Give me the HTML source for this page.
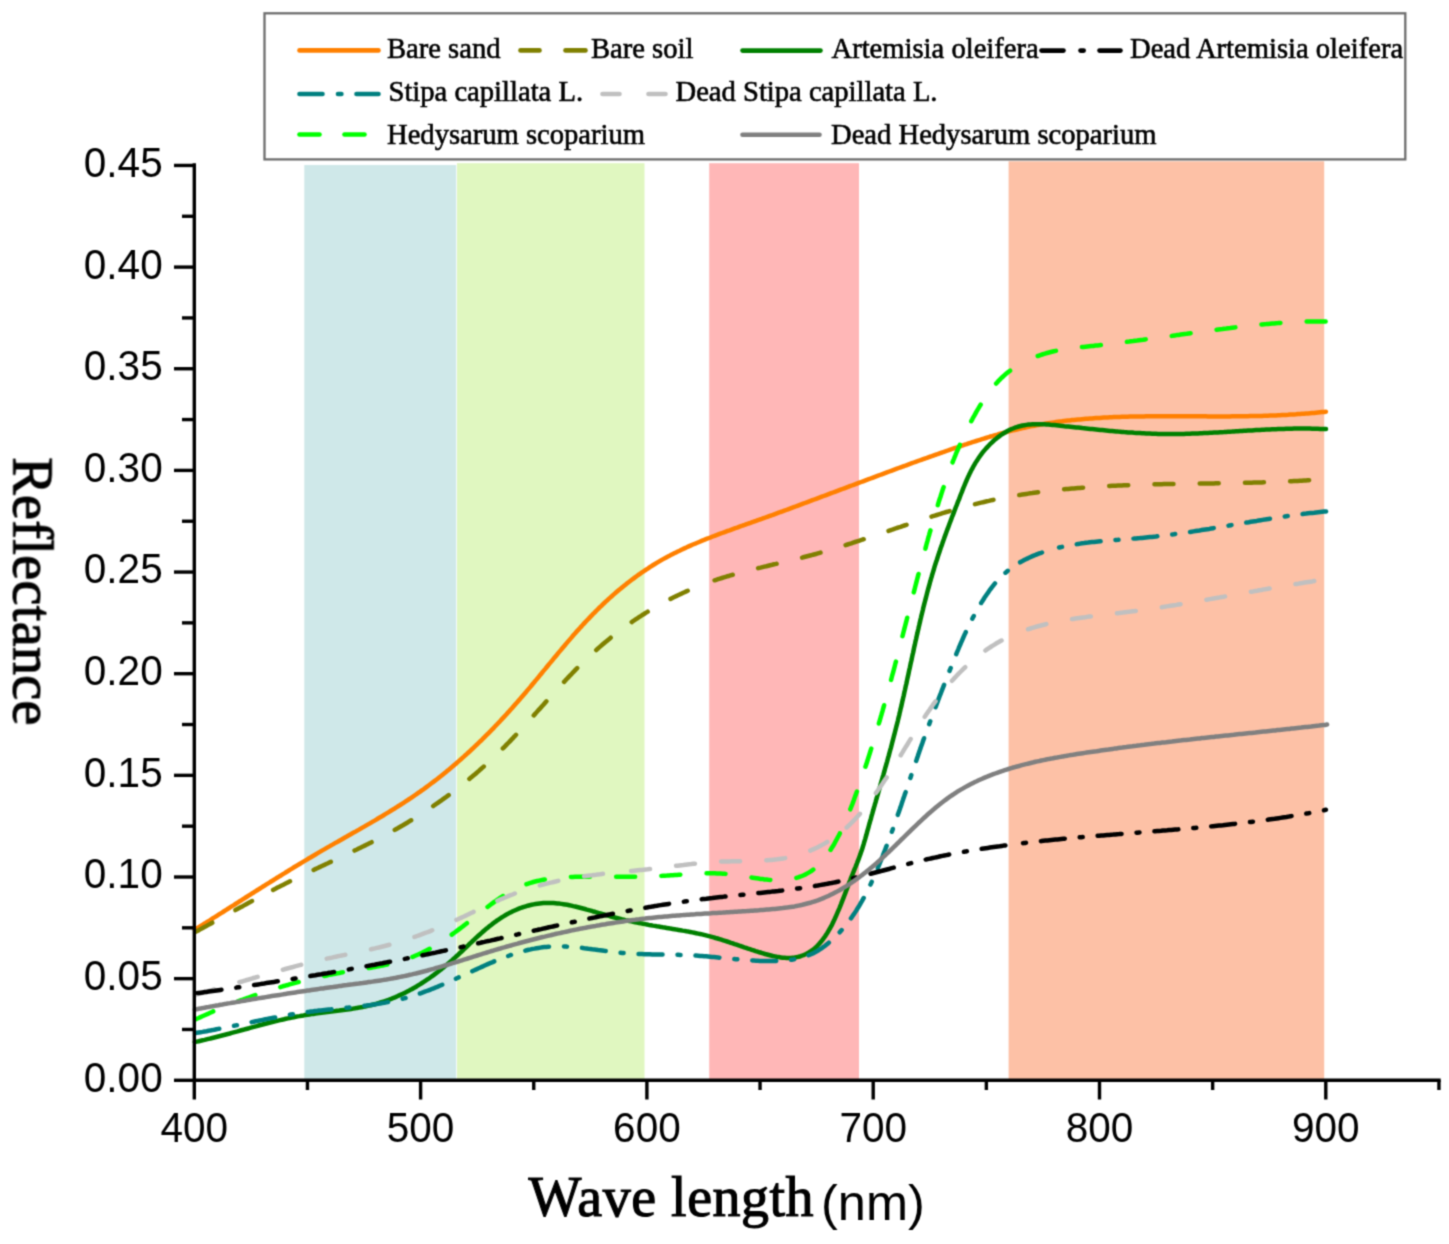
<!DOCTYPE html>
<html><head><meta charset="utf-8"><style>
html,body{margin:0;padding:0;background:#fff;}
svg{display:block;}
text{fill:#000;}
</style></head><body>
<svg width="1449" height="1244" viewBox="0 0 1449 1244">
<defs><filter id="bl" color-interpolation-filters="sRGB" x="0" y="0" width="1449" height="1244" filterUnits="userSpaceOnUse" primitiveUnits="userSpaceOnUse"><feConvolveMatrix order="3" kernelMatrix="0.0400 0.1200 0.0400 0.1200 0.3600 0.1200 0.0400 0.1200 0.0400" edgeMode="duplicate"/></filter></defs>
<g filter="url(#bl)">
<rect width="1449" height="1244" fill="#fff"/>
<rect x="304.3" y="165.0" width="151.9" height="915.3" fill="#cfe8e9"/>
<rect x="457.0" y="163.2" width="187.5" height="917.1" fill="#e0f7c0"/>
<rect x="709.2" y="163.2" width="149.8" height="917.1" fill="#ffb7b7"/>
<rect x="1008.6" y="161.3" width="315.6" height="919.0" fill="#fdc1a6"/>
<path d="M194.9,929.7 L196.6,928.6 198.3,927.5 200.0,926.5 201.7,925.4 203.4,924.3 205.1,923.3 206.8,922.2 208.5,921.1 210.2,920.1 211.8,919.0 213.5,917.9 215.2,916.9 216.9,915.8 218.6,914.7 220.3,913.6 222.0,912.6 223.7,911.5 225.4,910.4 227.1,909.3 228.8,908.3 230.4,907.2 232.1,906.1 233.8,905.1 235.5,904.0 237.2,902.9 238.9,901.8 240.6,900.8 242.3,899.7 244.0,898.6 245.7,897.5 247.3,896.5 249.0,895.4 250.7,894.3 252.4,893.2 254.1,892.2 255.8,891.1 257.5,890.0 259.2,889.0 260.9,887.9 262.6,886.8 264.3,885.8 266.0,884.7 267.7,883.6 269.4,882.6 271.1,881.5 272.8,880.5 274.5,879.4 276.2,878.3 277.9,877.3 279.6,876.2 281.3,875.2 283.0,874.1 284.7,873.1 286.4,872.0 288.1,871.0 289.8,869.9 291.5,868.9 293.2,867.8 294.9,866.8 296.6,865.8 298.3,864.7 300.0,863.7 301.8,862.6 303.5,861.6 305.2,860.6 306.9,859.6 308.6,858.5 310.4,857.5 312.1,856.5 313.8,855.5 315.5,854.5 317.3,853.4 319.0,852.4 320.7,851.4 322.4,850.4 324.2,849.4 325.9,848.4 327.6,847.4 329.4,846.4 331.1,845.4 332.9,844.4 334.6,843.4 336.3,842.4 338.1,841.5 339.8,840.5 341.6,839.5 343.3,838.5 345.0,837.5 346.8,836.5 348.5,835.5 350.3,834.5 352.0,833.5 353.7,832.6 355.5,831.6 357.2,830.6 359.0,829.6 360.7,828.6 362.4,827.6 364.2,826.6 365.9,825.6 367.6,824.6 369.4,823.6 371.1,822.6 372.8,821.6 374.6,820.6 376.3,819.6 378.0,818.5 379.7,817.5 381.5,816.5 383.2,815.5 384.9,814.4 386.6,813.4 388.3,812.4 390.0,811.3 391.7,810.3 393.4,809.2 395.1,808.2 396.8,807.1 398.5,806.0 400.2,805.0 401.9,803.9 403.6,802.8 405.3,801.7 406.9,800.6 408.6,799.5 410.3,798.4 411.9,797.3 413.6,796.2 415.3,795.0 416.9,793.9 418.6,792.7 420.2,791.6 421.8,790.4 423.5,789.3 425.1,788.1 426.7,786.9 428.3,785.7 429.9,784.5 431.5,783.3 433.1,782.1 434.7,780.9 436.3,779.7 437.9,778.5 439.4,777.2 441.0,776.0 442.6,774.7 444.1,773.5 445.7,772.2 447.2,770.9 448.8,769.7 450.3,768.4 451.9,767.1 453.4,765.8 454.9,764.5 456.4,763.2 457.9,761.9 459.4,760.6 460.9,759.3 462.4,757.9 463.9,756.6 465.4,755.2 466.9,753.9 468.4,752.5 469.9,751.2 471.3,749.8 472.8,748.5 474.2,747.1 475.7,745.7 477.1,744.3 478.6,742.9 480.0,741.5 481.5,740.2 482.9,738.7 484.3,737.3 485.7,735.9 487.1,734.5 488.6,733.1 490.0,731.7 491.4,730.2 492.8,728.8 494.2,727.4 495.5,725.9 496.9,724.5 498.3,723.0 499.7,721.6 501.0,720.1 502.4,718.6 503.8,717.2 505.1,715.7 506.5,714.2 507.8,712.7 509.2,711.3 510.5,709.8 511.9,708.3 513.2,706.8 514.5,705.3 515.8,703.8 517.2,702.3 518.5,700.8 519.8,699.3 521.1,697.7 522.4,696.2 523.7,694.7 525.0,693.2 526.3,691.7 527.6,690.1 528.9,688.6 530.2,687.1 531.5,685.5 532.7,684.0 534.0,682.5 535.3,680.9 536.6,679.4 537.9,677.8 539.1,676.3 540.4,674.7 541.7,673.2 542.9,671.6 544.2,670.1 545.5,668.6 546.8,667.0 548.0,665.5 549.3,663.9 550.6,662.4 551.9,660.8 553.1,659.3 554.4,657.7 555.7,656.2 557.0,654.7 558.2,653.1 559.5,651.6 560.8,650.1 562.1,648.5 563.4,647.0 564.7,645.5 566.0,643.9 567.3,642.4 568.6,640.9 569.9,639.4 571.2,637.9 572.5,636.3 573.8,634.8 575.2,633.3 576.5,631.8 577.8,630.3 579.2,628.9 580.5,627.4 581.9,625.9 583.2,624.4 584.6,622.9 585.9,621.5 587.3,620.0 588.7,618.6 590.1,617.1 591.5,615.7 592.8,614.2 594.3,612.8 595.7,611.4 597.1,610.0 598.5,608.6 599.9,607.2 601.4,605.8 602.8,604.4 604.3,603.0 605.7,601.7 607.2,600.3 608.7,598.9 610.2,597.6 611.7,596.3 613.2,594.9 614.7,593.6 616.2,592.3 617.7,591.0 619.2,589.7 620.8,588.5 622.3,587.2 623.9,585.9 625.5,584.7 627.0,583.4 628.6,582.2 630.2,581.0 631.8,579.8 633.4,578.6 635.0,577.4 636.6,576.2 638.2,575.0 639.9,573.9 641.5,572.7 643.2,571.6 644.8,570.5 646.5,569.4 648.2,568.3 649.8,567.2 651.5,566.1 653.2,565.0 654.9,564.0 656.7,562.9 658.4,561.9 660.1,560.9 661.8,559.9 663.6,558.9 665.3,558.0 667.1,557.0 668.9,556.1 670.6,555.1 672.4,554.2 674.2,553.3 676.0,552.4 677.8,551.5 679.6,550.7 681.4,549.8 683.2,548.9 685.0,548.1 686.8,547.3 688.7,546.4 690.5,545.6 692.3,544.8 694.2,544.0 696.0,543.3 697.9,542.5 699.7,541.7 701.6,540.9 703.4,540.2 705.3,539.4 707.1,538.7 709.0,538.0 710.9,537.3 712.7,536.5 714.6,535.8 716.5,535.1 718.3,534.4 720.2,533.7 722.1,533.0 724.0,532.3 725.9,531.6 727.7,530.9 729.6,530.3 731.5,529.6 733.4,528.9 735.3,528.2 737.2,527.6 739.0,526.9 740.9,526.2 742.8,525.5 744.7,524.9 746.6,524.2 748.5,523.5 750.4,522.9 752.3,522.2 754.1,521.5 756.0,520.9 757.9,520.2 759.8,519.5 761.7,518.9 763.6,518.2 765.5,517.5 767.3,516.8 769.2,516.1 771.1,515.5 773.0,514.8 774.9,514.1 776.8,513.4 778.6,512.7 780.5,512.0 782.4,511.4 784.3,510.7 786.2,510.0 788.0,509.3 789.9,508.6 791.8,507.9 793.7,507.2 795.6,506.5 797.4,505.8 799.3,505.1 801.2,504.4 803.1,503.7 804.9,503.0 806.8,502.3 808.7,501.6 810.6,500.9 812.4,500.2 814.3,499.5 816.2,498.8 818.1,498.1 820.0,497.4 821.8,496.7 823.7,496.0 825.6,495.3 827.5,494.6 829.3,493.9 831.2,493.2 833.1,492.5 834.9,491.8 836.8,491.1 838.7,490.4 840.6,489.7 842.4,489.0 844.3,488.3 846.2,487.6 848.1,486.9 849.9,486.2 851.8,485.5 853.7,484.8 855.6,484.1 857.4,483.4 859.3,482.7 861.2,482.0 863.1,481.3 864.9,480.6 866.8,479.9 868.7,479.2 870.6,478.5 872.4,477.8 874.3,477.1 876.2,476.4 878.1,475.7 879.9,475.0 881.8,474.3 883.7,473.6 885.6,472.9 887.5,472.2 889.3,471.5 891.2,470.8 893.1,470.1 895.0,469.4 896.9,468.7 898.7,468.0 900.6,467.3 902.5,466.6 904.4,466.0 906.3,465.3 908.1,464.6 910.0,463.9 911.9,463.2 913.8,462.5 915.7,461.8 917.5,461.2 919.4,460.5 921.3,459.8 923.2,459.1 925.1,458.5 927.0,457.8 928.9,457.1 930.7,456.5 932.6,455.8 934.5,455.1 936.4,454.5 938.3,453.8 940.2,453.1 942.1,452.5 944.0,451.8 945.9,451.2 947.8,450.5 949.6,449.8 951.5,449.2 953.4,448.5 955.3,447.9 957.2,447.3 959.1,446.6 961.0,446.0 962.9,445.3 964.8,444.7 966.7,444.1 968.6,443.4 970.5,442.8 972.4,442.2 974.3,441.6 976.2,441.0 978.1,440.4 980.0,439.8 982.0,439.2 983.9,438.6 985.8,438.0 987.7,437.4 989.6,436.8 991.5,436.3 993.5,435.7 995.4,435.1 997.3,434.6 999.2,434.0 1001.2,433.5 1003.1,433.0 1005.0,432.5 1007.0,431.9 1008.9,431.4 1010.8,430.9 1012.8,430.4 1014.7,430.0 1016.7,429.5 1018.6,429.0 1020.6,428.6 1022.5,428.1 1024.5,427.7 1026.4,427.3 1028.4,426.9 1030.4,426.4 1032.3,426.1 1034.3,425.7 1036.2,425.3 1038.2,424.9 1040.2,424.6 1042.2,424.2 1044.1,423.9 1046.1,423.6 1048.1,423.3 1050.1,423.0 1052.0,422.7 1054.0,422.4 1056.0,422.1 1058.0,421.8 1060.0,421.5 1062.0,421.3 1064.0,421.0 1065.9,420.8 1067.9,420.6 1069.9,420.4 1071.9,420.1 1073.9,419.9 1075.9,419.7 1077.9,419.5 1079.9,419.4 1081.9,419.2 1083.9,419.0 1085.9,418.8 1087.9,418.7 1089.9,418.5 1091.9,418.4 1093.8,418.2 1095.8,418.1 1097.8,418.0 1099.8,417.9 1101.8,417.7 1103.8,417.6 1105.8,417.5 1107.8,417.4 1109.8,417.3 1111.8,417.2 1113.8,417.1 1115.8,417.1 1117.8,417.0 1119.8,416.9 1121.8,416.8 1123.8,416.8 1125.8,416.7 1127.8,416.7 1129.8,416.6 1131.9,416.6 1133.9,416.5 1135.9,416.5 1137.9,416.4 1139.9,416.4 1141.9,416.4 1143.9,416.4 1145.9,416.3 1147.9,416.3 1149.9,416.3 1151.9,416.3 1153.9,416.3 1155.9,416.2 1157.9,416.2 1159.9,416.2 1161.9,416.2 1163.9,416.2 1165.9,416.2 1167.9,416.2 1169.9,416.2 1171.9,416.2 1173.9,416.2 1175.9,416.2 1177.9,416.2 1179.9,416.2 1181.9,416.2 1183.9,416.2 1185.9,416.3 1187.9,416.3 1189.9,416.3 1191.9,416.3 1193.9,416.3 1195.9,416.3 1197.9,416.3 1199.9,416.3 1201.9,416.3 1203.9,416.3 1205.9,416.3 1207.9,416.4 1209.9,416.4 1211.9,416.4 1213.9,416.4 1215.9,416.4 1217.9,416.4 1219.9,416.4 1221.9,416.4 1224.0,416.4 1226.0,416.4 1228.0,416.4 1230.0,416.4 1232.0,416.3 1234.0,416.3 1236.0,416.3 1238.0,416.3 1240.0,416.3 1242.0,416.3 1244.0,416.2 1246.0,416.2 1248.0,416.2 1250.0,416.1 1252.0,416.1 1254.0,416.1 1256.0,416.0 1258.0,416.0 1260.0,415.9 1262.0,415.9 1264.0,415.8 1266.0,415.7 1268.0,415.7 1270.0,415.6 1272.0,415.5 1274.0,415.4 1276.0,415.4 1278.0,415.3 1280.0,415.2 1282.0,415.1 1284.0,415.0 1286.0,414.9 1288.0,414.8 1290.0,414.6 1292.0,414.5 1294.0,414.4 1296.0,414.3 1298.0,414.1 1300.0,414.0 1302.0,413.8 1304.0,413.7 1306.0,413.5 1308.0,413.4 1310.0,413.2 1312.0,413.0 1314.0,412.9 1315.9,412.7 1317.9,412.5 1319.9,412.3 1321.9,412.1 1323.9,411.9 1325.9,411.7" fill="none" stroke="#ff8000" stroke-width="4.5" stroke-linejoin="round" stroke-linecap="round"/>
<path d="M194.8,932.3 L196.6,931.3 198.3,930.4 200.1,929.4 201.8,928.5 203.6,927.5 205.4,926.6 207.1,925.6 208.9,924.6 210.6,923.7 212.4,922.7 214.1,921.8 215.9,920.8 217.6,919.8 219.4,918.9 221.2,917.9 222.9,917.0 224.7,916.0 226.4,915.0 228.2,914.1 229.9,913.1 231.7,912.1 233.4,911.2 235.2,910.2 236.9,909.3 238.7,908.3 240.5,907.3 242.2,906.4 244.0,905.4 245.7,904.5 247.5,903.5 249.2,902.6 251.0,901.6 252.8,900.7 254.5,899.7 256.3,898.8" fill="none" stroke="#808000" stroke-width="4.5" stroke-linejoin="round" stroke-dasharray="19 26.25" stroke-dashoffset="-1.00" stroke-linecap="round"/>
<path d="M256.3,898.8 L258.1,897.8 259.8,896.9 261.6,896.0 263.4,895.0 265.1,894.1 266.9,893.1 268.7,892.2 270.4,891.3 272.2,890.4 274.0,889.4 275.8,888.5 277.5,887.6 279.3,886.7 281.1,885.8 282.9,884.9 284.7,884.0 286.5,883.1 288.2,882.2 290.0,881.3 291.8,880.4 293.6,879.5 295.4,878.6 297.2,877.8 299.0,876.9 300.8,876.0 302.6,875.2 304.4,874.3 306.2,873.4 308.0,872.6 309.8,871.7 311.7,870.8 313.5,870.0 315.3,869.1 317.1,868.3 318.9,867.4 320.7,866.6 322.5,865.7 324.3,864.9 326.1,864.0 327.9,863.2 329.8,862.3 331.6,861.5 333.4,860.6 335.2,859.8 337.0,858.9 338.8,858.1 340.6,857.2 342.4,856.4 344.2,855.5 346.0,854.7 347.9,853.8 349.7,852.9 351.5,852.1 353.3,851.2 355.1,850.3 356.9,849.5 358.7,848.6 360.5,847.7 362.3,846.8 364.1,845.9 365.8,845.1 367.6,844.2 369.4,843.3 371.2,842.4 373.0,841.5 374.8,840.6 376.6,839.6 378.3,838.7 380.1,837.8 381.9,836.9 383.6,835.9 385.4,835.0 387.2,834.0 388.9,833.1 390.7,832.1 392.4,831.1 394.2,830.2 395.9,829.2 397.7,828.2 399.4,827.2 401.1,826.2 402.9,825.2 404.6,824.2 406.3,823.2 408.0,822.2 409.7,821.1 411.4,820.1 413.2,819.0 414.9,818.0 416.6,816.9 418.2,815.9 419.9,814.8 421.6,813.7 423.3,812.6 425.0,811.5 426.6,810.4 428.3,809.3 430.0,808.2 431.6,807.1 433.3,806.0 434.9,804.8 436.6,803.7 438.2,802.6 439.9,801.4 441.5,800.3 443.1,799.1 444.8,797.9 446.4,796.8 448.0,795.6 449.6,794.4 451.2,793.2 452.8,792.0 454.4,790.8 456.0,789.6 457.6,788.3 459.1,787.1 460.7,785.9 462.3,784.6 463.9,783.4 465.4,782.1 467.0,780.9 468.5,779.6 470.1,778.3 471.6,777.1 473.1,775.8 474.7,774.5 476.2,773.2 477.7,771.9 479.2,770.6 480.7,769.2 482.2,767.9 483.7,766.6 485.2,765.2 486.7,763.9 488.1,762.6 489.6,761.2 491.1,759.8 492.5,758.5 494.0,757.1 495.4,755.7 496.9,754.3 498.3,752.9 499.7,751.5 501.2,750.1 502.6,748.7 504.0,747.3 505.4,745.9 506.8,744.4 508.2,743.0 509.6,741.6 511.0,740.1 512.4,738.7 513.7,737.2 515.1,735.8 516.5,734.3 517.8,732.9 519.2,731.4 520.6,729.9 521.9,728.5 523.3,727.0 524.6,725.5 526.0,724.0 527.3,722.5 528.7,721.1 530.0,719.6 531.3,718.1 532.7,716.6 534.0,715.1 535.4,713.6 536.7,712.1 538.0,710.6 539.4,709.2 540.7,707.7 542.0,706.2 543.4,704.7 544.7,703.2 546.0,701.7 547.4,700.2 548.7,698.7 550.0,697.2 551.4,695.7 552.7,694.3 554.0,692.8 555.4,691.3 556.7,689.8 558.1,688.3 559.4,686.9 560.8,685.4 562.2,683.9 563.5,682.5 564.9,681.0 566.2,679.5 567.6,678.1 569.0,676.6 570.4,675.2 571.8,673.7 573.1,672.3 574.5,670.9 575.9,669.4 577.3,668.0 578.8,666.6 580.2,665.2 581.6,663.8 583.0,662.4 584.5,661.0 585.9,659.6 587.3,658.2 588.8,656.8 590.2,655.5 591.7,654.1 593.2,652.7 594.7,651.4 596.2,650.1 597.7,648.7 599.2,647.4 600.7,646.1 602.2,644.8 603.7,643.5 605.2,642.2 606.8,640.9 608.3,639.7 609.9,638.4 611.4,637.1 613.0,635.9 614.6,634.7 616.2,633.4 617.7,632.2 619.3,631.0 620.9,629.8 622.5,628.6 624.2,627.4 625.8,626.3 627.4,625.1 629.0,623.9 630.7,622.8 632.3,621.7 634.0,620.5 635.6,619.4 637.3,618.3 639.0,617.2 640.7,616.1 642.3,615.0 644.0,614.0 645.7,612.9 647.4,611.9 649.1,610.8 650.9,609.8 652.6,608.8 654.3,607.8 656.0,606.8 657.8,605.8 659.5,604.8 661.3,603.8 663.0,602.9 664.8,601.9 666.5,601.0 668.3,600.1 670.1,599.1 671.9,598.2 673.7,597.3 675.5,596.4 677.3,595.6 679.1,594.7 680.9,593.9 682.7,593.0 684.5,592.2 686.3,591.4 688.2,590.6 690.0,589.8 691.8,589.0 693.7,588.2" fill="none" stroke="#808000" stroke-width="4.5" stroke-linejoin="round" stroke-dasharray="19 26.25" stroke-dashoffset="71.52" stroke-linecap="round"/>
<path d="M693.7,588.2 L695.5,587.4 697.4,586.7 699.2,585.9 701.1,585.2 703.0,584.5 704.9,583.8 706.7,583.1 708.6,582.4 710.5,581.7 712.4,581.1 714.3,580.4 716.2,579.8 718.1,579.2 720.0,578.6 721.9,578.0 723.8,577.4 725.7,576.8 727.6,576.2 729.5,575.7 731.5,575.1 733.4,574.6 735.3,574.0 737.3,573.5 739.2,573.0 741.1,572.4 743.0,571.9 745.0,571.4 746.9,570.9 748.9,570.4 750.8,569.9 752.7,569.5 754.7,569.0 756.6,568.5 758.6,568.0 760.5,567.6 762.5,567.1 764.4,566.6 766.3,566.2 768.3,565.7 770.2,565.2 772.2,564.8 774.1,564.3 776.1,563.9 778.0,563.4 780.0,563.0 781.9,562.5 783.9,562.0 785.8,561.6 787.8,561.1 789.7,560.6 791.7,560.2 793.6,559.7 795.5,559.2 797.5,558.7 799.4,558.3 801.4,557.8 803.3,557.3 805.2,556.8 807.2,556.3 809.1,555.8 811.0,555.3 813.0,554.7 814.9,554.2 816.8,553.7 818.8,553.1 820.7,552.6 822.6,552.0 824.5,551.5 826.5,550.9 828.4,550.4 830.3,549.8 832.2,549.2 834.1,548.6 836.0,548.1 837.9,547.5 839.9,546.9 841.8,546.3 843.7,545.7 845.6,545.1 847.5,544.5 849.4,543.9 851.3,543.3 853.2,542.6 855.1,542.0 857.0,541.4 858.9,540.8 860.8,540.2 862.7,539.5 864.6,538.9 866.5,538.3 868.4,537.6 870.3,537.0 872.2,536.4 874.1,535.7 876.0,535.1 877.9,534.5 879.8,533.8 881.7,533.2 883.6,532.5 885.5,531.9 887.4,531.3 889.3,530.6 891.2,530.0 893.1,529.3 894.9,528.7 896.8,528.0 898.7,527.4 900.6,526.8 902.5,526.1 904.4,525.5 906.3,524.9 908.2,524.2 910.1,523.6 912.0,523.0 913.9,522.3 915.8,521.7 917.7,521.1 919.6,520.4 921.5,519.8 923.4,519.2 925.3,518.6 927.2,518.0 929.1,517.4 931.0,516.8 932.9,516.2 934.9,515.6 936.8,515.0 938.7,514.4 940.6,513.8 942.5,513.2 944.4,512.6 946.3,512.0 948.2,511.5 950.2,510.9 952.1,510.3 954.0,509.8 955.9,509.2 957.9,508.7 959.8,508.2 961.7,507.6 963.6,507.1 965.6,506.6 967.5,506.1 969.4,505.6 971.4,505.1 973.3,504.6 975.3,504.1 977.2,503.6 979.1,503.1 981.1,502.6 983.0,502.2 985.0,501.7 986.9,501.3 988.9,500.9 990.8,500.4 992.8,500.0 994.8,499.6 996.7,499.2 998.7,498.8 1000.6,498.4 1002.6,498.0 1004.6,497.6 1006.5,497.3 1008.5,496.9 1010.5,496.5 1012.4,496.2 1014.4,495.9 1016.4,495.5 1018.3,495.2 1020.3,494.9 1022.3,494.5 1024.3,494.2 1026.3,493.9 1028.2,493.6 1030.2,493.3 1032.2,493.1 1034.2,492.8 1036.2,492.5 1038.1,492.2 1040.1,492.0 1042.1,491.7 1044.1,491.5 1046.1,491.2 1048.1,491.0 1050.0,490.8 1052.0,490.5 1054.0,490.3 1056.0,490.1 1058.0,489.9 1060.0,489.7 1062.0,489.5 1064.0,489.3 1066.0,489.1 1068.0,488.9 1069.9,488.7 1071.9,488.5 1073.9,488.4 1075.9,488.2 1077.9,488.0 1079.9,487.9 1081.9,487.7 1083.9,487.6 1085.9,487.4 1087.9,487.3 1089.9,487.1 1091.9,487.0 1093.9,486.9 1095.9,486.7 1097.9,486.6 1099.9,486.5 1101.9,486.4 1103.9,486.3 1105.9,486.2 1107.9,486.1 1109.9,485.9 1111.9,485.8 1113.9,485.8 1115.9,485.7 1117.8,485.6 1119.8,485.5 1121.8,485.4 1123.8,485.3 1125.8,485.2 1127.8,485.2 1129.8,485.1 1131.8,485.0 1133.8,484.9 1135.8,484.9 1137.8,484.8 1139.8,484.7 1141.8,484.7 1143.8,484.6 1145.8,484.6 1147.8,484.5 1149.8,484.5 1151.8,484.4 1153.8,484.4 1155.8,484.3 1157.8,484.3 1159.8,484.2 1161.8,484.2 1163.8,484.1 1165.8,484.1 1167.8,484.1 1169.8,484.0 1171.8,484.0 1173.8,484.0 1175.8,483.9 1177.8,483.9 1179.8,483.9 1181.8,483.8 1183.8,483.8 1185.8,483.8 1187.8,483.7 1189.8,483.7 1191.8,483.7 1193.8,483.6 1195.8,483.6 1197.8,483.6 1199.8,483.6 1201.8,483.5 1203.8,483.5 1205.8,483.5 1207.8,483.5 1209.8,483.4 1211.8,483.4 1213.8,483.4 1215.8,483.3 1217.8,483.3 1219.8,483.3 1221.8,483.2 1223.8,483.2 1225.8,483.2 1227.8,483.1 1229.8,483.1 1231.8,483.1 1233.8,483.0 1235.8,483.0 1237.8,483.0 1239.8,482.9 1241.8,482.9 1243.8,482.8 1245.8,482.8 1247.8,482.7 1249.8,482.7 1251.8,482.7 1253.8,482.6 1255.8,482.5 1257.8,482.5 1259.8,482.4 1261.8,482.4 1263.8,482.3 1265.8,482.3 1267.8,482.2 1269.8,482.1 1271.8,482.1 1273.8,482.0 1275.8,481.9 1277.8,481.8 1279.8,481.7 1281.8,481.7 1283.8,481.6 1285.8,481.5 1287.8,481.4 1289.8,481.3 1291.8,481.2 1293.8,481.1 1295.8,481.0 1297.8,480.9 1299.8,480.8 1301.8,480.7 1303.8,480.5 1305.8,480.4 1307.8,480.3 1309.8,480.2 1311.8,480.0 1313.8,479.9 1315.8,479.8 1317.8,479.6 1319.8,479.5 1321.8,479.3 1323.8,479.1 1325.8,479.0" fill="none" stroke="#808000" stroke-width="4.5" stroke-linejoin="round" stroke-dasharray="19 26.25" stroke-dashoffset="611.16" stroke-linecap="round"/>
<path d="M194.8,1042.0 L196.8,1041.6 198.7,1041.2 200.7,1040.7 202.6,1040.3 204.6,1039.9 206.5,1039.4 208.5,1038.9 210.4,1038.5 212.3,1038.0 214.3,1037.5 216.2,1037.0 218.2,1036.5 220.1,1036.0 222.0,1035.5 224.0,1035.0 225.9,1034.5 227.8,1034.0 229.8,1033.5 231.7,1032.9 233.6,1032.4 235.6,1031.9 237.5,1031.4 239.4,1030.8 241.4,1030.3 243.3,1029.8 245.2,1029.2 247.1,1028.7 249.1,1028.2 251.0,1027.6 252.9,1027.1 254.9,1026.6 256.8,1026.1 258.7,1025.5 260.7,1025.0 262.6,1024.5 264.5,1024.0 266.5,1023.5 268.4,1023.0 270.3,1022.5 272.3,1022.0 274.2,1021.5 276.2,1021.1 278.1,1020.6 280.1,1020.1 282.0,1019.7 284.0,1019.3 285.9,1018.8 287.9,1018.4 289.8,1018.0 291.8,1017.6 293.7,1017.2 295.7,1016.8 297.7,1016.4 299.6,1016.1 301.6,1015.7 303.6,1015.4 305.6,1015.0 307.5,1014.7 309.5,1014.4 311.5,1014.1 313.5,1013.9 315.5,1013.6 317.4,1013.3 319.4,1013.1 321.4,1012.8 323.4,1012.6 325.4,1012.3 327.4,1012.1 329.4,1011.8 331.3,1011.6 333.3,1011.3 335.3,1011.1 337.3,1010.8 339.3,1010.6 341.3,1010.3 343.2,1010.0 345.2,1009.8 347.2,1009.5 349.2,1009.2 351.2,1008.9 353.1,1008.6 355.1,1008.3 357.1,1007.9 359.1,1007.6 361.0,1007.2 363.0,1006.9 365.0,1006.5 366.9,1006.0 368.9,1005.6 370.8,1005.2 372.8,1004.7 374.7,1004.2 376.6,1003.7 378.6,1003.1 380.5,1002.5 382.4,1001.9 384.3,1001.3 386.2,1000.7 388.1,1000.0 389.9,999.3 391.8,998.6 393.7,997.8 395.5,997.1 397.3,996.3 399.2,995.4 401.0,994.6 402.8,993.8 404.6,992.9 406.4,992.0 408.2,991.1 409.9,990.1 411.7,989.2 413.4,988.2 415.2,987.2 416.9,986.2 418.6,985.1 420.3,984.1 422.0,983.0 423.7,981.9 425.3,980.8 427.0,979.7 428.7,978.6 430.3,977.5 431.9,976.3 433.6,975.1 435.2,973.9 436.8,972.7 438.4,971.5 439.9,970.3 441.5,969.1 443.1,967.8 444.6,966.5 446.2,965.3 447.7,964.0 449.2,962.7 450.7,961.4 452.2,960.1 453.7,958.7 455.2,957.4 456.7,956.0 458.2,954.7 459.6,953.3 461.1,952.0 462.6,950.6 464.0,949.2 465.5,947.8 466.9,946.5 468.4,945.1 469.8,943.7 471.3,942.3 472.7,941.0 474.2,939.6 475.7,938.2 477.1,936.9 478.6,935.5 480.1,934.2 481.6,932.9 483.1,931.5 484.6,930.2 486.1,928.9 487.7,927.7 489.2,926.4 490.8,925.2 492.4,923.9 494.0,922.7 495.6,921.6 497.2,920.4 498.9,919.3 500.6,918.2 502.2,917.1 503.9,916.1 505.7,915.0 507.4,914.1 509.2,913.1 511.0,912.2 512.8,911.3 514.6,910.5 516.4,909.7 518.3,908.9 520.1,908.2 522.0,907.5 523.9,906.9 525.8,906.3 527.7,905.7 529.7,905.2 531.6,904.8 533.6,904.4 535.5,904.0 537.5,903.7 539.5,903.4 541.5,903.2 543.5,903.0 545.5,902.9 547.5,902.9 549.5,902.9 551.5,902.9 553.5,903.0 555.5,903.2 557.5,903.4 559.5,903.6 561.4,903.9 563.4,904.2 565.4,904.5 567.4,904.8 569.3,905.2 571.3,905.6 573.2,906.1 575.2,906.5 577.1,907.0 579.1,907.5 581.0,908.0 582.9,908.5 584.9,909.0 586.8,909.6 588.7,910.1 590.7,910.6 592.6,911.2 594.5,911.7 596.4,912.3 598.3,912.9 600.3,913.4 602.2,914.0 604.1,914.5 606.0,915.1 608.0,915.6 609.9,916.2 611.8,916.7 613.7,917.2 615.7,917.7 617.6,918.2 619.6,918.7 621.5,919.2 623.5,919.6 625.4,920.1 627.4,920.5 629.3,921.0 631.3,921.4 633.2,921.8 635.2,922.2 637.1,922.6 639.1,923.0 641.1,923.4 643.0,923.8 645.0,924.1 647.0,924.5 648.9,924.9 650.9,925.2 652.9,925.6 654.8,925.9 656.8,926.3 658.8,926.6 660.8,926.9 662.7,927.3 664.7,927.6 666.7,927.9 668.7,928.2 670.6,928.6 672.6,928.9 674.6,929.2 676.5,929.6 678.5,929.9 680.5,930.2 682.5,930.6 684.4,930.9 686.4,931.3 688.4,931.6 690.3,932.0 692.3,932.4 694.3,932.8 696.2,933.2 698.2,933.6 700.1,934.0 702.1,934.4 704.0,934.9 706.0,935.4 707.9,935.9 709.9,936.4 711.8,936.9 713.7,937.4 715.6,938.0 717.6,938.5 719.5,939.1 721.4,939.7 723.3,940.3 725.2,940.9 727.1,941.5 729.0,942.1 730.9,942.8 732.8,943.4 734.7,944.1 736.6,944.7 738.5,945.3 740.4,946.0 742.3,946.6 744.2,947.3 746.1,947.9 748.0,948.6 749.9,949.2 751.8,949.8 753.7,950.4 755.6,951.1 757.5,951.7 759.4,952.3 761.3,952.8 763.2,953.4 765.1,954.0 767.1,954.5 769.0,955.0 770.9,955.5 772.9,956.0 774.8,956.4 776.8,956.8 778.8,957.1 780.8,957.4 782.7,957.7 784.7,957.8 786.7,957.9 788.7,957.9 790.7,957.9 792.7,957.7 794.7,957.5 796.7,957.1 798.6,956.7 800.6,956.2 802.5,955.5 804.3,954.8 806.1,954.0 807.9,953.1 809.6,952.0 811.3,950.9 812.9,949.7 814.5,948.5 816.0,947.2 817.4,945.8 818.8,944.3 820.1,942.8 821.4,941.3 822.7,939.7 823.8,938.1 825.0,936.5 826.1,934.8 827.2,933.1 828.2,931.4 829.2,929.7 830.2,928.0 831.2,926.2 832.1,924.4 833.0,922.6 833.8,920.8 834.7,919.0 835.5,917.2 836.3,915.4 837.1,913.5 837.9,911.7 838.7,909.9 839.5,908.0 840.2,906.2 841.0,904.3 841.7,902.4 842.4,900.6 843.2,898.7 843.9,896.8 844.6,895.0 845.3,893.1 846.0,891.2 846.7,889.4 847.4,887.5 848.1,885.6 848.8,883.7 849.5,881.9 850.3,880.0 851.0,878.1 851.7,876.3 852.5,874.4 853.2,872.6 854.0,870.7 854.7,868.9 855.5,867.0 856.2,865.2 857.0,863.3 857.7,861.4 858.4,859.6 859.1,857.7 859.8,855.8 860.5,853.9 861.1,852.0 861.8,850.1 862.4,848.2 863.0,846.3 863.6,844.4 864.1,842.5 864.7,840.6 865.3,838.6 865.8,836.7 866.4,834.8 866.9,832.9 867.4,830.9 868.0,829.0 868.5,827.1 869.0,825.2 869.6,823.2 870.1,821.3 870.7,819.4 871.2,817.5 871.7,815.5 872.3,813.6 872.8,811.7 873.4,809.8 873.9,807.8 874.5,805.9 875.0,804.0 875.6,802.1 876.1,800.1 876.7,798.2 877.2,796.3 877.8,794.4 878.3,792.4 878.9,790.5 879.4,788.6 880.0,786.7 880.5,784.7 881.1,782.8 881.6,780.9 882.2,779.0 882.7,777.0 883.3,775.1 883.8,773.2 884.4,771.3 884.9,769.3 885.4,767.4 886.0,765.5 886.5,763.6 887.1,761.6 887.6,759.7 888.1,757.8 888.7,755.9 889.2,753.9 889.7,752.0 890.2,750.1 890.8,748.1 891.3,746.2 891.8,744.3 892.3,742.3 892.8,740.4 893.3,738.5 893.8,736.5 894.3,734.6 894.8,732.7 895.3,730.7 895.8,728.8 896.3,726.8 896.8,724.9 897.3,723.0 897.8,721.0 898.2,719.1 898.7,717.1 899.2,715.2 899.6,713.2 900.1,711.3 900.5,709.3 901.0,707.4 901.5,705.4 901.9,703.5 902.3,701.5 902.8,699.6 903.2,697.6 903.7,695.7 904.1,693.7 904.5,691.8 905.0,689.8 905.4,687.9 905.8,685.9 906.3,684.0 906.7,682.0 907.1,680.1 907.5,678.1 908.0,676.1 908.4,674.2 908.8,672.2 909.2,670.3 909.7,668.3 910.1,666.4 910.5,664.4 910.9,662.5 911.4,660.5 911.8,658.5 912.2,656.6 912.6,654.6 913.1,652.7 913.5,650.7 913.9,648.8 914.3,646.8 914.8,644.9 915.2,642.9 915.6,640.9 916.1,639.0 916.5,637.0 916.9,635.1 917.4,633.1 917.8,631.2 918.3,629.2 918.7,627.3 919.2,625.3 919.6,623.4 920.1,621.4 920.5,619.5 921.0,617.5 921.4,615.6 921.9,613.7 922.4,611.7 922.9,609.8 923.3,607.8 923.8,605.9 924.3,603.9 924.8,602.0 925.3,600.1 925.8,598.1 926.3,596.2 926.8,594.2 927.3,592.3 927.8,590.4 928.3,588.5 928.9,586.5 929.4,584.6 929.9,582.7 930.5,580.7 931.0,578.8 931.6,576.9 932.1,575.0 932.7,573.1 933.3,571.1 933.9,569.2 934.4,567.3 935.0,565.4 935.6,563.5 936.2,561.6 936.9,559.7 937.5,557.8 938.1,555.9 938.7,554.0 939.4,552.1 940.0,550.2 940.6,548.3 941.3,546.4 942.0,544.5 942.6,542.6 943.3,540.7 944.0,538.8 944.6,537.0 945.3,535.1 946.0,533.2 946.7,531.3 947.4,529.4 948.1,527.6 948.8,525.7 949.5,523.8 950.2,522.0 950.9,520.1 951.6,518.2 952.3,516.3 953.1,514.5 953.8,512.6 954.5,510.7 955.2,508.9 955.9,507.0 956.7,505.1 957.4,503.3 958.1,501.4 958.9,499.6 959.6,497.7 960.3,495.8 961.0,494.0 961.8,492.1 962.5,490.2 963.2,488.4 964.0,486.5 964.8,484.7 965.5,482.8 966.3,481.0 967.1,479.2 967.9,477.3 968.8,475.5 969.6,473.7 970.5,471.9 971.4,470.1 972.4,468.4 973.3,466.6 974.3,464.9 975.3,463.1 976.4,461.4 977.5,459.8 978.6,458.1 979.7,456.5 980.9,454.8 982.1,453.2 983.3,451.7 984.6,450.1 985.9,448.6 987.3,447.1 988.6,445.7 990.0,444.2 991.5,442.8 992.9,441.5 994.4,440.1 995.9,438.9 997.5,437.6 999.1,436.4 1000.7,435.2 1002.4,434.1 1004.1,433.0 1005.8,432.0 1007.5,431.0 1009.3,430.1 1011.1,429.2 1012.9,428.5 1014.8,427.7 1016.7,427.1 1018.6,426.5 1020.6,426.0 1022.5,425.5 1024.5,425.2 1026.4,424.9 1028.4,424.6 1030.4,424.4 1032.4,424.3 1034.4,424.2 1036.4,424.2 1038.4,424.2 1040.4,424.2 1042.4,424.3 1044.4,424.3 1046.4,424.5 1048.4,424.6 1050.4,424.8 1052.4,424.9 1054.4,425.1 1056.4,425.3 1058.4,425.5 1060.4,425.7 1062.4,425.9 1064.3,426.2 1066.3,426.4 1068.3,426.6 1070.3,426.8 1072.3,427.0 1074.3,427.2 1076.3,427.4 1078.3,427.6 1080.3,427.8 1082.3,428.1 1084.2,428.3 1086.2,428.5 1088.2,428.7 1090.2,428.9 1092.2,429.1 1094.2,429.3 1096.2,429.5 1098.2,429.7 1100.2,429.9 1102.2,430.1 1104.1,430.3 1106.1,430.5 1108.1,430.7 1110.1,430.9 1112.1,431.0 1114.1,431.2 1116.1,431.4 1118.1,431.6 1120.1,431.7 1122.1,431.9 1124.1,432.1 1126.1,432.2 1128.1,432.4 1130.1,432.5 1132.1,432.6 1134.1,432.8 1136.1,432.9 1138.0,433.0 1140.0,433.1 1142.0,433.2 1144.0,433.3 1146.0,433.4 1148.0,433.5 1150.0,433.6 1152.0,433.7 1154.0,433.8 1156.0,433.8 1158.0,433.9 1160.0,433.9 1162.0,433.9 1164.0,434.0 1166.0,434.0 1168.0,434.0 1170.0,434.0 1172.0,434.0 1174.0,434.0 1176.0,434.0 1178.0,434.0 1180.0,433.9 1182.0,433.9 1184.0,433.9 1186.0,433.8 1188.0,433.7 1190.0,433.7 1192.0,433.6 1194.0,433.6 1196.0,433.5 1198.0,433.4 1200.0,433.3 1202.0,433.2 1204.0,433.1 1206.0,433.0 1208.0,432.9 1210.0,432.8 1212.0,432.7 1214.0,432.6 1216.0,432.5 1218.0,432.4 1220.0,432.3 1222.0,432.2 1224.0,432.1 1226.0,431.9 1228.0,431.8 1230.0,431.7 1232.0,431.6 1234.0,431.4 1236.0,431.3 1238.0,431.2 1240.0,431.1 1242.0,431.0 1244.0,430.8 1246.0,430.7 1248.0,430.6 1250.0,430.5 1252.0,430.4 1254.0,430.2 1256.0,430.1 1258.0,430.0 1260.0,429.9 1262.0,429.8 1264.0,429.7 1266.0,429.6 1268.0,429.5 1270.0,429.4 1272.0,429.3 1274.0,429.2 1276.0,429.2 1278.0,429.1 1280.0,429.0 1282.0,428.9 1284.0,428.9 1286.0,428.8 1288.0,428.8 1290.0,428.7 1292.0,428.7 1294.0,428.6 1296.0,428.6 1298.0,428.6 1300.0,428.6 1302.0,428.6 1304.0,428.6 1306.0,428.6 1308.0,428.6 1310.0,428.6 1312.0,428.7 1314.0,428.7 1316.0,428.7 1318.0,428.8 1320.0,428.9 1322.0,429.0 1324.0,429.0 1326.0,429.1" fill="none" stroke="#008000" stroke-width="4.5" stroke-linejoin="round" stroke-linecap="round"/>
<path d="M194.7,1033.2 L196.7,1032.8 198.7,1032.5 200.7,1032.2 202.6,1031.9 204.6,1031.5 206.6,1031.2 208.5,1030.8 210.5,1030.4 212.5,1030.1 214.5,1029.7 216.4,1029.3 218.4,1028.9 220.3,1028.6 222.3,1028.2 224.3,1027.8 226.2,1027.4 228.2,1027.0 230.2,1026.6 232.1,1026.2 234.1,1025.8 236.0,1025.4 238.0,1025.0 240.0,1024.6 241.9,1024.2 243.9,1023.7 245.8,1023.3 247.8,1022.9 249.8,1022.5 251.7,1022.1 253.7,1021.7 255.6,1021.3 257.6,1020.9 259.6,1020.5 261.5,1020.1 263.5,1019.7 265.4,1019.3 267.4,1018.9 269.4,1018.5 271.3,1018.1 273.3,1017.7 275.3,1017.4 277.2,1017.0 279.2,1016.6 281.2,1016.3 283.1,1015.9 285.1,1015.5 287.1,1015.2 289.1,1014.9 291.0,1014.5 293.0,1014.2 295.0,1013.9 297.0,1013.6 298.9,1013.3 300.9,1013.0 302.9,1012.7 304.9,1012.4 306.9,1012.1 308.8,1011.9 310.8,1011.6 312.8,1011.4 314.8,1011.1 316.8,1010.9 318.8,1010.6 320.8,1010.4 322.8,1010.2 324.7,1010.0 326.7,1009.8 328.7,1009.6 330.7,1009.4 332.7,1009.2 334.7,1009.0 336.7,1008.8 338.7,1008.6 340.7,1008.4 342.7,1008.2 344.7,1008.0 346.6,1007.8 348.6,1007.6 350.6,1007.3 352.6,1007.1 354.6,1006.9 356.6,1006.7 358.6,1006.5 360.6,1006.2 362.6,1006.0 364.6,1005.7 366.5,1005.5 368.5,1005.2 370.5,1005.0 372.5,1004.7 374.5,1004.4 376.4,1004.1 378.4,1003.8 380.4,1003.4 382.4,1003.1 384.3,1002.8 386.3,1002.4 388.3,1002.0 390.2,1001.6 392.2,1001.2 394.2,1000.8 396.1,1000.4 398.1,999.9 400.0,999.4 401.9,998.9 403.9,998.4 405.8,997.9 407.7,997.4 409.7,996.8 411.6,996.2 413.5,995.6 415.4,995.0 417.3,994.4 419.2,993.7 421.1,993.1 423.0,992.4 424.8,991.7 426.7,991.0 428.6,990.3 430.4,989.6 432.3,988.8 434.2,988.1 436.0,987.3 437.9,986.6 439.7,985.8 441.6,985.0 443.4,984.2 445.2,983.4 447.1,982.6 448.9,981.8 450.7,981.0 452.6,980.2 454.4,979.4 456.2,978.5 458.0,977.7 459.9,976.9 461.7,976.0 463.5,975.2 465.3,974.4 467.1,973.5 468.9,972.7 470.8,971.9 472.6,971.0 474.4,970.2 476.2,969.4 478.0,968.5 479.9,967.7 481.7,966.9 483.5,966.1 485.3,965.2 487.2,964.4 489.0,963.6 490.8,962.8 492.7,962.1 494.5,961.3 496.4,960.5 498.2,959.8 500.1,959.0 502.0,958.3 503.8,957.6 505.7,956.9 507.6,956.2 509.5,955.5 511.4,954.8 513.3,954.2 515.2,953.6 517.1,953.0 519.0,952.4 520.9,951.8 522.8,951.3 524.8,950.8 526.7,950.3 528.6,949.8 530.6,949.4 532.6,948.9 534.5,948.6 536.5,948.2 538.5,947.9 540.4,947.6 542.4,947.3 544.4,947.1 546.4,946.9 548.4,946.7 550.4,946.5 552.4,946.4 554.4,946.4 556.4,946.3 558.4,946.3 560.4,946.3 562.4,946.4 564.4,946.5 566.4,946.6 568.4,946.7 570.4,946.8 572.4,946.9 574.4,947.1 576.4,947.3 578.4,947.5 580.4,947.7 582.4,947.9 584.3,948.2 586.3,948.4 588.3,948.7 590.3,948.9 592.3,949.2 594.3,949.4 596.2,949.7 598.2,950.0 600.2,950.2 602.2,950.5 604.2,950.8 606.2,951.0 608.2,951.3 610.1,951.6 612.1,951.8 614.1,952.0 616.1,952.3 618.1,952.5 620.1,952.7 622.1,952.9 624.1,953.1 626.1,953.2 628.1,953.4 630.1,953.5 632.1,953.6 634.1,953.8 636.1,953.9 638.0,954.0 640.0,954.0 642.0,954.1 644.1,954.2 646.1,954.2 648.1,954.3 650.1,954.3 652.1,954.4 654.1,954.4 656.1,954.5 658.1,954.5 660.1,954.5 662.1,954.6 664.1,954.6 666.1,954.6 668.1,954.6 670.1,954.7 672.1,954.7 674.1,954.7 676.1,954.8 678.1,954.8 680.1,954.9 682.1,954.9 684.1,955.0 686.1,955.1 688.1,955.2 690.1,955.3 692.1,955.4 694.1,955.5 696.1,955.6 698.1,955.7 700.1,955.9 702.1,956.0 704.1,956.2 706.1,956.3 708.0,956.5 710.0,956.7 712.0,956.9 714.0,957.1 716.0,957.3 718.0,957.5 720.0,957.7 722.0,957.9 724.0,958.1 726.0,958.3 728.0,958.5 730.0,958.6 732.0,958.8 733.9,959.0 735.9,959.2 737.9,959.4 739.9,959.6 741.9,959.8 743.9,959.9 745.9,960.1 747.9,960.2 749.9,960.4 751.9,960.5 753.9,960.6 755.9,960.7 757.9,960.8 759.9,960.9 761.9,961.0 763.9,961.0 765.9,961.1 767.9,961.1 769.9,961.1 771.9,961.1 773.9,961.0 775.9,961.0 777.9,960.9 779.9,960.8 781.9,960.7 783.9,960.6 785.9,960.4 787.9,960.2 789.9,960.0 791.9,959.7 793.8,959.4 795.8,959.0 797.8,958.6 799.7,958.1 801.6,957.6 803.6,957.1 805.5,956.4 807.4,955.8 809.2,955.0 811.0,954.2 812.9,953.4 814.6,952.5 816.4,951.5 818.1,950.5 819.8,949.4 821.5,948.3 823.1,947.2 824.8,946.0 826.3,944.8 827.9,943.5 829.4,942.2 830.9,940.9 832.4,939.6 833.9,938.2 835.3,936.8 836.7,935.4 838.1,934.0 839.5,932.5 840.8,931.0 842.2,929.5 843.5,928.0 844.7,926.5 846.0,924.9 847.2,923.3 848.5,921.7 849.7,920.1 850.8,918.5 852.0,916.9 853.1,915.2 854.3,913.6 855.4,911.9 856.5,910.2 857.5,908.5 858.6,906.8 859.6,905.1 860.6,903.4 861.6,901.7 862.6,899.9 863.6,898.2 864.5,896.4 865.4,894.6 866.4,892.9 867.3,891.1 868.2,889.3 869.0,887.5 869.9,885.7 870.8,883.9 871.6,882.1 872.5,880.2 873.3,878.4 874.1,876.6 874.9,874.8 875.7,872.9 876.5,871.1 877.3,869.2 878.1,867.4 878.8,865.5 879.6,863.7 880.3,861.8 881.1,860.0 881.8,858.1 882.6,856.3 883.3,854.4 884.0,852.5 884.8,850.7 885.5,848.8 886.2,846.9 886.9,845.1 887.6,843.2 888.3,841.3 889.0,839.4 889.7,837.6 890.4,835.7 891.1,833.8 891.8,831.9 892.5,830.0 893.1,828.2 893.8,826.3 894.5,824.4 895.1,822.5 895.8,820.6 896.5,818.7 897.1,816.8 897.8,814.9 898.4,813.1 899.1,811.2 899.8,809.3 900.4,807.4 901.1,805.5 901.7,803.6 902.3,801.7 903.0,799.8 903.6,797.9 904.3,796.0 904.9,794.1 905.6,792.2 906.2,790.3 906.8,788.4 907.5,786.5 908.1,784.6 908.8,782.7 909.4,780.8 910.0,778.9 910.7,777.0 911.3,775.1 911.9,773.2 912.6,771.3 913.2,769.5 913.9,767.6 914.5,765.7 915.2,763.8 915.8,761.9 916.5,760.0 917.1,758.1 917.8,756.2 918.4,754.3 919.1,752.4 919.7,750.5 920.4,748.6 921.0,746.7 921.7,744.9 922.4,743.0 923.0,741.1 923.7,739.2 924.4,737.3 925.1,735.4 925.7,733.5 926.4,731.7 927.1,729.8 927.8,727.9 928.5,726.0 929.2,724.1 929.9,722.3 930.6,720.4 931.3,718.5 932.0,716.6 932.7,714.8 933.4,712.9 934.1,711.0 934.8,709.1 935.5,707.3 936.2,705.4 936.9,703.5 937.6,701.6 938.3,699.8 939.0,697.9 939.7,696.0 940.5,694.2 941.2,692.3 941.9,690.4 942.6,688.6 943.4,686.7 944.1,684.8 944.8,683.0 945.5,681.1 946.3,679.2 947.0,677.4 947.7,675.5 948.5,673.6 949.2,671.8 949.9,669.9 950.7,668.1 951.4,666.2 952.1,664.3 952.9,662.5 953.6,660.6 954.4,658.8 955.1,656.9 955.9,655.1 956.6,653.2 957.4,651.4 958.2,649.5 958.9,647.7 959.7,645.8 960.5,644.0 961.3,642.1 962.1,640.3 962.9,638.5 963.7,636.6 964.5,634.8 965.4,633.0 966.2,631.2 967.1,629.4 967.9,627.6 968.8,625.8 969.7,624.0 970.6,622.2 971.5,620.4 972.4,618.6 973.3,616.8 974.3,615.1 975.2,613.3 976.2,611.6 977.2,609.8 978.2,608.1 979.2,606.3 980.2,604.6 981.2,602.9 982.3,601.2 983.4,599.5 984.4,597.8 985.5,596.2 986.7,594.5 987.8,592.9 989.0,591.2 990.1,589.6 991.4,588.0 992.6,586.4 993.8,584.9 995.1,583.3 996.4,581.8 997.8,580.3 999.1,578.9 1000.5,577.4 1001.9,576.0 1003.4,574.6 1004.8,573.3 1006.4,572.0 1007.9,570.7 1009.5,569.4 1011.1,568.2 1012.7,567.1 1014.3,565.9 1016.0,564.8 1017.7,563.8 1019.4,562.7 1021.1,561.7 1022.9,560.8 1024.7,559.8 1026.5,558.9 1028.3,558.1 1030.1,557.2 1031.9,556.4 1033.7,555.6 1035.6,554.9 1037.5,554.1 1039.3,553.4 1041.2,552.8 1043.1,552.1 1045.0,551.5 1046.9,550.9 1048.8,550.3 1050.8,549.7" fill="none" stroke="#008080" stroke-width="4.5" stroke-linejoin="round" stroke-dasharray="24 15 3 15" stroke-dashoffset="-1.00" stroke-linecap="round"/>
<path d="M1050.8,549.7 L1052.7,549.2 1054.6,548.7 1056.6,548.2 1058.5,547.7 1060.5,547.2 1062.4,546.8 1064.4,546.4 1066.3,546.0 1068.3,545.6 1070.3,545.2 1072.2,544.9 1074.2,544.5 1076.2,544.2 1078.2,543.9 1080.1,543.6 1082.1,543.3 1084.1,543.1 1086.1,542.8 1088.1,542.6 1090.1,542.3 1092.1,542.1 1094.0,541.9 1096.0,541.7 1098.0,541.5 1100.0,541.3 1102.0,541.1 1104.0,540.9 1106.0,540.7 1108.0,540.6 1110.0,540.4 1112.0,540.3 1114.0,540.1 1116.0,539.9 1118.0,539.8 1120.0,539.6 1122.0,539.5 1124.0,539.3 1126.0,539.2 1127.9,539.0 1129.9,538.9 1131.9,538.7 1133.9,538.6 1135.9,538.4 1137.9,538.2 1139.9,538.1 1141.9,537.9 1143.9,537.7 1145.9,537.5 1147.9,537.3 1149.9,537.1 1151.9,536.9 1153.9,536.7 1155.9,536.5 1157.8,536.2 1159.8,536.0 1161.8,535.8 1163.8,535.5 1165.8,535.3 1167.8,535.0 1169.8,534.8 1171.7,534.5 1173.7,534.3 1175.7,534.0 1177.7,533.7 1179.7,533.4 1181.7,533.2 1183.6,532.9 1185.6,532.6 1187.6,532.3 1189.6,532.0 1191.6,531.7 1193.5,531.4 1195.5,531.1 1197.5,530.8 1199.5,530.5 1201.4,530.1 1203.4,529.8 1205.4,529.5 1207.4,529.2 1209.4,528.9 1211.3,528.5 1213.3,528.2 1215.3,527.9 1217.3,527.5 1219.2,527.2 1221.2,526.9 1223.2,526.5 1225.1,526.2 1227.1,525.9 1229.1,525.5 1231.1,525.2 1233.0,524.9 1235.0,524.5 1237.0,524.2 1239.0,523.9 1240.9,523.5 1242.9,523.2 1244.9,522.8 1246.9,522.5 1248.8,522.2 1250.8,521.8 1252.8,521.5 1254.7,521.2 1256.7,520.9 1258.7,520.5 1260.7,520.2 1262.6,519.9 1264.6,519.6 1266.6,519.2 1268.6,518.9 1270.6,518.6 1272.5,518.3 1274.5,518.0 1276.5,517.7 1278.5,517.4 1280.4,517.1 1282.4,516.8 1284.4,516.5 1286.4,516.2 1288.4,515.9 1290.4,515.7 1292.3,515.4 1294.3,515.1 1296.3,514.8 1298.3,514.6 1300.3,514.3 1302.3,514.1 1304.2,513.8 1306.2,513.6 1308.2,513.3 1310.2,513.1 1312.2,512.9 1314.2,512.7 1316.2,512.4 1318.2,512.2 1320.2,512.0 1322.1,511.8 1324.1,511.6 1326.1,511.4" fill="none" stroke="#008080" stroke-width="4.5" stroke-linejoin="round" stroke-dasharray="24 15 3 15" stroke-dashoffset="1113.44" stroke-linecap="round"/>
<path d="M195.0,1019.7 L196.8,1018.8 198.6,1018.0 200.5,1017.1 202.3,1016.3 204.1,1015.5 205.9,1014.7 207.8,1013.9 209.6,1013.0 211.4,1012.2 213.3,1011.4 215.1,1010.7 216.9,1009.9 218.8,1009.1 220.6,1008.3 222.5,1007.6 224.3,1006.8 226.2,1006.0 228.0,1005.3 229.9,1004.6 231.7,1003.8 233.6,1003.1 235.5,1002.4 237.3,1001.7 239.2,1000.9 241.1,1000.2 243.0,999.5 244.8,998.8 246.7,998.2 248.6,997.5 250.5,996.8 252.4,996.1 254.3,995.5 256.1,994.8 258.0,994.2 259.9,993.5 261.8,992.9 263.7,992.3 265.6,991.6 267.5,991.0 269.4,990.4 271.3,989.8 273.3,989.2 275.2,988.6 277.1,988.0 279.0,987.5 280.9,986.9 282.8,986.3 284.8,985.8 286.7,985.2 288.6,984.7 290.5,984.1 292.5,983.6 294.4,983.1 296.3,982.6 298.3,982.1 300.2,981.6 302.1,981.1 304.1,980.6 306.0,980.1 308.0,979.6 309.9,979.2 311.9,978.7 313.8,978.2 315.8,977.8 317.7,977.3 319.7,976.9 321.6,976.5 323.6,976.1 325.5,975.7 327.5,975.2 329.4,974.9 331.4,974.5 333.4,974.1 335.3,973.7 337.3,973.3 339.3,973.0 341.2,972.6 343.2,972.3 345.2,971.9 347.1,971.6 349.1,971.3 351.1,970.9 353.1,970.6 355.0,970.3 357.0,970.0 359.0,969.6 361.0,969.3 362.9,969.0 364.9,968.7 366.9,968.4 368.9,968.0 370.8,967.7 372.8,967.3 374.8,967.0 376.7,966.6 378.7,966.3 380.7,965.9 382.6,965.5 384.6,965.1 386.6,964.6 388.5,964.2 390.5,963.7 392.4,963.3 394.3,962.8 396.3,962.3 398.2,961.7 400.1,961.2 402.0,960.6 403.9,960.0 405.8,959.4 407.7,958.7 409.6,958.0 411.5,957.3 413.3,956.6 415.2,955.8 417.0,955.0 418.8,954.2 420.7,953.4 422.5,952.5 424.3,951.6 426.0,950.7 427.8,949.7 429.6,948.8 431.3,947.8 433.0,946.8 434.8,945.8 436.5,944.8 438.2,943.7 439.9,942.6 441.6,941.6 443.2,940.5 444.9,939.4 446.6,938.2 448.2,937.1 449.8,936.0 451.5,934.8 453.1,933.6 454.7,932.5 456.3,931.3 457.9,930.1 459.5,928.9 461.1,927.7 462.7,926.5 464.3,925.2 465.9,924.0 467.5,922.8 469.0,921.5 470.6,920.3 472.2,919.1 473.7,917.8 475.3,916.6 476.9,915.3 478.4,914.1 480.0,912.8 481.6,911.6 483.1,910.4 484.7,909.1 486.3,907.9 487.9,906.7 489.5,905.5 491.1,904.3 492.7,903.1 494.3,901.9 496.0,900.8 497.6,899.6 499.2,898.5 500.9,897.4 502.6,896.3 504.3,895.2 506.0,894.2 507.7,893.1 509.4,892.1 511.2,891.1 512.9,890.2 514.7,889.3 516.5,888.4 518.3,887.5 520.1,886.7 522.0,885.9 523.8,885.2 525.7,884.5 527.6,883.8 529.5,883.2 531.4,882.6 533.3,882.0 535.2,881.5 537.2,881.0 539.1,880.6 541.1,880.2 543.1,879.8 545.0,879.4 547.0,879.1 549.0,878.8 551.0,878.5 553.0,878.3 554.9,878.1 556.9,877.9 558.9,877.7 560.9,877.5 562.9,877.4 564.9,877.3 566.9,877.1 568.9,877.1 570.9,877.0 572.9,876.9 574.9,876.8 576.9,876.8 578.9,876.8 580.9,876.7 582.9,876.7 584.9,876.7 586.9,876.7 588.9,876.7 590.9,876.7 592.9,876.7 594.9,876.7 596.9,876.7 598.9,876.7 600.9,876.7 602.9,876.7 604.9,876.7 606.9,876.7 608.9,876.7 610.9,876.8 612.9,876.8 614.9,876.8 616.9,876.8 618.9,876.8 620.9,876.8 622.9,876.8 624.9,876.8 626.9,876.8 628.9,876.8 630.9,876.8 632.9,876.8 634.9,876.7 636.9,876.7 638.9,876.7 640.9,876.7 642.9,876.6 644.9,876.6 646.9,876.5 648.9,876.5 650.9,876.4 652.9,876.3 654.9,876.2 656.9,876.2 658.9,876.1 660.9,875.9 662.9,875.8 664.9,875.7 666.9,875.6 668.9,875.4 670.9,875.3 672.9,875.2 674.9,875.0 676.9,874.9 678.9,874.7 680.9,874.6 682.9,874.4 684.9,874.3 686.9,874.2 688.9,874.0 690.9,873.9 692.9,873.8 694.9,873.7 696.8,873.6 698.8,873.5 700.8,873.4 702.8,873.4 704.8,873.3 706.8,873.3 708.8,873.3 710.8,873.3 712.8,873.3 714.8,873.3 716.8,873.4 718.8,873.5 720.8,873.6 722.8,873.7 724.8,873.8 726.8,874.0 728.8,874.2 730.8,874.4 732.8,874.7 734.8,874.9 736.8,875.2 738.7,875.5 740.7,875.8 742.7,876.1 744.7,876.4 746.6,876.7 748.6,877.1 750.6,877.4 752.6,877.7 754.6,878.0 756.5,878.3 758.5,878.6 760.5,878.9 762.5,879.1 764.5,879.4 766.5,879.6 768.4,879.8 770.4,879.9 772.4,880.1 774.4,880.1 776.4,880.2 778.4,880.2 780.4,880.2 782.4,880.1 784.4,880.0 786.4,879.8 788.4,879.6 790.4,879.3 792.4,878.9 794.3,878.5 796.2,878.0 798.2,877.4 800.0,876.7 801.9,876.0 803.8,875.2 805.6,874.4 807.3,873.4 809.1,872.4 810.8,871.4 812.4,870.2 814.0,869.0 815.5,867.8 817.1,866.4 818.5,865.1 819.9,863.7 821.3,862.2 822.6,860.7 823.9,859.2 825.1,857.6 826.4,856.0 827.5,854.4 828.7,852.7 829.8,851.1 830.9,849.4 831.9,847.7 833.0,846.0 834.0,844.3 835.0,842.5 835.9,840.8 836.9,839.0 837.8,837.3 838.8,835.5 839.7,833.7 840.5,831.9 841.4,830.1 842.3,828.3 843.1,826.5 843.9,824.7 844.7,822.8 845.5,821.0 846.3,819.2 847.1,817.3 847.9,815.5 848.6,813.6 849.4,811.7 850.1,809.9 850.8,808.0 851.5,806.2 852.3,804.3 853.0,802.4 853.7,800.5 854.3,798.7 855.0,796.8 855.7,794.9 856.4,793.0 857.1,791.1 857.8,789.3 858.4,787.4 859.1,785.5 859.7,783.6 860.4,781.7 861.1,779.8 861.7,777.9 862.4,776.0 863.0,774.1 863.6,772.2 864.3,770.3 864.9,768.4 865.5,766.5 866.2,764.6 866.8,762.7 867.4,760.8 868.0,758.9 868.6,757.0 869.2,755.1 869.8,753.2 870.4,751.3 871.0,749.4 871.6,747.5 872.2,745.6 872.8,743.7 873.4,741.8 874.0,739.8 874.6,737.9 875.2,736.0 875.7,734.1 876.3,732.2 876.9,730.3 877.5,728.3 878.0,726.4 878.6,724.5 879.1,722.6 879.7,720.7 880.3,718.7 880.8,716.8 881.4,714.9 881.9,713.0 882.5,711.1 883.0,709.1 883.6,707.2 884.1,705.3 884.6,703.3 885.2,701.4 885.7,699.5 886.3,697.6 886.8,695.6 887.3,693.7 887.8,691.8 888.4,689.8 888.9,687.9 889.4,686.0 889.9,684.1 890.5,682.1 891.0,680.2 891.5,678.3 892.0,676.3 892.5,674.4 893.1,672.5 893.6,670.5 894.1,668.6 894.6,666.7 895.1,664.7 895.6,662.8 896.1,660.9 896.6,658.9 897.1,657.0 897.6,655.0 898.1,653.1 898.6,651.2 899.1,649.2 899.6,647.3 900.1,645.4 900.6,643.4 901.1,641.5 901.6,639.6 902.1,637.6 902.6,635.7 903.1,633.7 903.6,631.8 904.1,629.9 904.6,627.9 905.1,626.0 905.6,624.1 906.1,622.1 906.6,620.2 907.1,618.2 907.6,616.3 908.1,614.4 908.6,612.4 909.1,610.5 909.6,608.5 910.1,606.6 910.6,604.7 911.1,602.7 911.6,600.8 912.1,598.9 912.6,596.9 913.1,595.0 913.6,593.0 914.1,591.1 914.6,589.2 915.1,587.2 915.6,585.3 916.1,583.4 916.6,581.4 917.1,579.5 917.6,577.6 918.1,575.6 918.6,573.7 919.1,571.8 919.7,569.8 920.2,567.9 920.7,565.9 921.2,564.0 921.7,562.1 922.2,560.1 922.7,558.2 923.3,556.3 923.8,554.4 924.3,552.4 924.8,550.5 925.4,548.6 925.9,546.6 926.4,544.7 926.9,542.8 927.5,540.8 928.0,538.9 928.5,537.0 929.1,535.1 929.6,533.1 930.2,531.2 930.7,529.3 931.2,527.4 931.8,525.4 932.3,523.5 932.9,521.6 933.5,519.7 934.0,517.7 934.6,515.8 935.2,513.9 935.7,512.0 936.3,510.1 936.9,508.2 937.5,506.2 938.1,504.3 938.6,502.4 939.2,500.5 939.8,498.6 940.5,496.7 941.1,494.8 941.7,492.9 942.3,491.0 942.9,489.1 943.6,487.2 944.2,485.3 944.9,483.4 945.5,481.5 946.2,479.6 946.8,477.7 947.5,475.9 948.2,474.0 948.9,472.1 949.6,470.2 950.3,468.3 951.0,466.5 951.7,464.6 952.4,462.7 953.1,460.9 953.9,459.0 954.6,457.2 955.4,455.3 956.1,453.4 956.9,451.6 957.7,449.8 958.5,447.9 959.3,446.1 960.1,444.3 960.9,442.4 961.7,440.6 962.5,438.8 963.4,437.0 964.2,435.2 965.1,433.4 966.0,431.6 966.9,429.8 967.7,428.0 968.7,426.2 969.6,424.4 970.5,422.6 971.4,420.9 972.4,419.1 973.3,417.3 974.3,415.6 975.3,413.8 976.2,412.1 977.2,410.4 978.3,408.6 979.3,406.9 980.3,405.2 981.4,403.5 982.4,401.8 983.5,400.1 984.6,398.5 985.7,396.8 986.9,395.2 988.0,393.5 989.2,391.9 990.4,390.3 991.7,388.8 992.9,387.2 994.2,385.7 995.5,384.2 996.9,382.7 998.2,381.2 999.6,379.8 1001.0,378.4 1002.5,377.0 1004.0,375.6 1005.5,374.3 1007.0,373.1 1008.6,371.8 1010.2,370.6 1011.8,369.4 1013.5,368.3 1015.1,367.2 1016.8,366.1 1018.5,365.1 1020.2,364.1" fill="none" stroke="#00ff00" stroke-width="4.5" stroke-linejoin="round" stroke-dasharray="19 26.25" stroke-dashoffset="-1.00" stroke-linecap="round"/>
<path d="M1020.2,364.1 L1022.0,363.1 1023.8,362.1 1025.5,361.2 1027.3,360.4 1029.2,359.5 1031.0,358.7 1032.8,357.9 1034.7,357.2 1036.5,356.4 1038.4,355.8 1040.3,355.1 1042.2,354.5 1044.1,353.9 1046.0,353.3 1048.0,352.8 1049.9,352.3 1051.8,351.8 1053.8,351.3 1055.8,350.9 1057.7,350.5 1059.7,350.1 1061.6,349.8 1063.6,349.5 1065.6,349.1 1067.6,348.8 1069.6,348.6 1071.5,348.3 1073.5,348.0 1075.5,347.8 1077.5,347.6 1079.5,347.3 1081.5,347.1 1083.5,346.9 1085.4,346.7 1087.4,346.5 1089.4,346.3 1091.4,346.1 1093.4,345.9 1095.4,345.6 1097.4,345.4 1099.4,345.2 1101.4,345.0 1103.4,344.7 1105.3,344.5 1107.3,344.3 1109.3,344.1 1111.3,343.8 1113.3,343.6 1115.3,343.3 1117.3,343.1 1119.2,342.8 1121.2,342.6 1123.2,342.3 1125.2,342.1 1127.2,341.8 1129.2,341.6 1131.2,341.3 1133.1,341.1 1135.1,340.8 1137.1,340.6 1139.1,340.3 1141.1,340.0 1143.1,339.8 1145.0,339.5 1147.0,339.2 1149.0,339.0 1151.0,338.7 1153.0,338.4 1154.9,338.2 1156.9,337.9 1158.9,337.6 1160.9,337.3 1162.9,337.1 1164.9,336.8 1166.8,336.5 1168.8,336.2 1170.8,336.0 1172.8,335.7 1174.8,335.4 1176.7,335.1 1178.7,334.9 1180.7,334.6 1182.7,334.3 1184.7,334.0 1186.7,333.8 1188.6,333.5 1190.6,333.2 1192.6,333.0 1194.6,332.7 1196.6,332.4 1198.5,332.1 1200.5,331.9 1202.5,331.6 1204.5,331.3 1206.5,331.1 1208.5,330.8 1210.4,330.5 1212.4,330.3 1214.4,330.0 1216.4,329.8 1218.4,329.5 1220.4,329.2 1222.4,329.0 1224.3,328.7 1226.3,328.5 1228.3,328.2 1230.3,328.0 1232.3,327.7 1234.3,327.5 1236.2,327.3 1238.2,327.0 1240.2,326.8 1242.2,326.6 1244.2,326.3 1246.2,326.1 1248.2,325.9 1250.2,325.7 1252.2,325.4 1254.1,325.2 1256.1,325.0 1258.1,324.8 1260.1,324.6 1262.1,324.4 1264.1,324.2 1266.1,324.1 1268.1,323.9 1270.1,323.7 1272.1,323.5 1274.1,323.4 1276.1,323.2 1278.0,323.1 1280.0,322.9 1282.0,322.8 1284.0,322.6 1286.0,322.5 1288.0,322.4 1290.0,322.3 1292.0,322.2 1294.0,322.1 1296.0,322.0 1298.0,321.9 1300.0,321.8 1302.0,321.8 1304.0,321.7 1306.0,321.6 1308.0,321.6 1310.0,321.5 1312.0,321.5 1314.0,321.5 1316.0,321.5 1318.0,321.5 1320.0,321.5 1322.0,321.5 1324.0,321.5 1326.0,321.6" fill="none" stroke="#00ff00" stroke-width="4.5" stroke-linejoin="round" stroke-dasharray="19 26.25" stroke-dashoffset="1202.41" stroke-linecap="round"/>
<path d="M194.9,994.9 L196.8,994.3 198.8,993.8 200.7,993.3 202.6,992.8 204.5,992.2 206.5,991.7 208.4,991.1 210.3,990.6 212.2,990.1 214.2,989.5 216.1,989.0 218.0,988.4 219.9,987.9 221.9,987.3 223.8,986.8 225.7,986.2 227.6,985.6 229.5,985.1 231.5,984.5 233.4,984.0 235.3,983.4 237.2,982.8 239.1,982.3 241.1,981.7 243.0,981.2 244.9,980.6 246.8,980.0 248.7,979.5 250.7,978.9 252.6,978.3 254.5,977.8 256.4,977.2 258.4,976.7 260.3,976.1 262.2,975.6 264.1,975.0 266.0,974.5 268.0,973.9 269.9,973.4 271.8,972.8 273.7,972.3 275.7,971.7 277.6,971.2 279.5,970.6 281.4,970.1 283.4,969.6 285.3,969.0 287.2,968.5 289.2,968.0 291.1,967.5 293.0,967.0 295.0,966.4 296.9,965.9 298.8,965.4 300.8,964.9 302.7,964.4 304.6,963.9 306.6,963.4 308.5,963.0 310.5,962.5 312.4,962.0 314.4,961.5 316.3,961.1 318.2,960.6 320.2,960.2 322.1,959.7 324.1,959.3 326.0,958.8 328.0,958.4 330.0,958.0 331.9,957.6 333.9,957.1 335.8,956.7 337.8,956.3 339.7,955.9 341.7,955.5 343.7,955.1 345.6,954.7 347.6,954.3 349.5,953.9 351.5,953.5 353.5,953.1 355.4,952.7 357.4,952.3 359.3,951.8 361.3,951.4 363.2,951.0 365.2,950.6 367.1,950.2 369.1,949.7 371.1,949.3 373.0,948.8 375.0,948.4 376.9,947.9 378.8,947.5 380.8,947.0 382.7,946.5 384.7,946.0 386.6,945.5 388.5,945.0 390.5,944.5 392.4,943.9 394.3,943.4 396.2,942.8 398.2,942.2 400.1,941.7 402.0,941.1 403.9,940.5 405.8,939.9 407.7,939.2 409.6,938.6 411.5,938.0 413.4,937.3 415.3,936.7 417.2,936.0 419.0,935.3 420.9,934.6 422.8,933.9 424.7,933.2 426.5,932.5 428.4,931.8 430.3,931.1 432.1,930.3 434.0,929.6 435.8,928.9 437.7,928.1 439.5,927.3 441.4,926.6 443.2,925.8 445.1,925.0 446.9,924.2 448.7,923.4 450.6,922.6 452.4,921.8 454.2,920.9 456.0,920.1 457.9,919.3 459.7,918.4 461.5,917.6 463.3,916.8 465.1,915.9 466.9,915.1 468.7,914.2 470.5,913.3 472.3,912.5 474.1,911.6 476.0,910.8 477.8,909.9 479.6,909.0 481.4,908.2 483.2,907.3 485.0,906.5 486.8,905.6 488.6,904.8 490.4,904.0 492.3,903.1 494.1,902.3 495.9,901.5 497.7,900.7 499.6,899.8 501.4,899.0 503.2,898.3 505.1,897.5 506.9,896.7 508.8,895.9 510.6,895.2 512.5,894.5 514.3,893.7 516.2,893.0 518.1,892.3 520.0,891.7 521.9,891.0 523.8,890.3 525.6,889.7 527.5,889.1 529.5,888.5 531.4,887.9 533.3,887.3 535.2,886.7 537.1,886.2 539.0,885.6 541.0,885.1 542.9,884.6 544.8,884.1 546.8,883.6 548.7,883.1 550.7,882.6 552.6,882.2 554.6,881.7 556.5,881.3 558.5,880.8 560.4,880.4 562.4,880.0 564.3,879.6 566.3,879.3 568.3,878.9 570.2,878.5 572.2,878.2 574.2,877.8 576.2,877.5 578.1,877.2 580.1,876.9 582.1,876.6 584.1,876.3 586.0,876.0 588.0,875.7 590.0,875.4 592.0,875.2 594.0,874.9 596.0,874.7 597.9,874.4 599.9,874.2 601.9,873.9 603.9,873.7 605.9,873.5 607.9,873.3 609.9,873.1 611.9,872.9 613.8,872.7 615.8,872.5" fill="none" stroke="#c0c0c0" stroke-width="4.5" stroke-linejoin="round" stroke-dasharray="19 26.25" stroke-dashoffset="-1.00" stroke-linecap="round"/>
<path d="M615.8,872.5 L617.8,872.3 619.8,872.1 621.8,871.9 623.8,871.7 625.8,871.5 627.8,871.3 629.8,871.1 631.8,870.9 633.8,870.7 635.7,870.5 637.7,870.3 639.7,870.1 641.7,869.9 643.7,869.7 645.7,869.5 647.7,869.3 649.7,869.0 651.7,868.8 653.6,868.6 655.6,868.4 657.6,868.1 659.6,867.9 661.6,867.6 663.6,867.4 665.6,867.2 667.6,866.9 669.5,866.7 671.5,866.4 673.5,866.2 675.5,865.9 677.5,865.7 679.5,865.4 681.5,865.2 683.4,865.0 685.4,864.7 687.4,864.5 689.4,864.3 691.4,864.1 693.4,863.8 695.4,863.6 697.4,863.4 699.3,863.2 701.3,863.0 703.3,862.9 705.3,862.7 707.3,862.5 709.3,862.4 711.3,862.2 713.3,862.1 715.3,861.9 717.3,861.8 719.3,861.7 721.3,861.6 723.3,861.6 725.3,861.5 727.3,861.4 729.3,861.4 731.3,861.3 733.3,861.3 735.3,861.3 737.3,861.2 739.3,861.2 741.3,861.2 743.3,861.1 745.3,861.1 747.3,861.1 749.3,861.0 751.3,861.0 753.3,860.9 755.3,860.9 757.3,860.8 759.3,860.7 761.3,860.6 763.3,860.5 765.3,860.4 767.3,860.3 769.3,860.1 771.3,859.9 773.3,859.7 775.2,859.5 777.2,859.3 779.2,859.0 781.2,858.7 783.2,858.4 785.1,858.1 787.1,857.7 789.1,857.3 791.0,856.8 793.0,856.4 794.9,855.9 796.8,855.3 798.7,854.7 800.6,854.1 802.5,853.5 804.4,852.9 806.3,852.2 808.2,851.4 810.0,850.7 811.9,849.9 813.7,849.1 815.5,848.3 817.3,847.4 819.1,846.5 820.9,845.6 822.6,844.6 824.4,843.6 826.1,842.6 827.8,841.6 829.5,840.5 831.2,839.4 832.9,838.3 834.5,837.2 836.1,836.0 837.7,834.8 839.3,833.6" fill="none" stroke="#c0c0c0" stroke-width="4.5" stroke-linejoin="round" stroke-dasharray="19 26.25" stroke-dashoffset="437.10" stroke-linecap="round"/>
<path d="M839.3,833.6 L840.9,832.4 842.4,831.1 844.0,829.8 845.5,828.5 847.0,827.2 848.4,825.8 849.9,824.4 851.3,823.0 852.7,821.6 854.1,820.2 855.5,818.7 856.8,817.3 858.2,815.8 859.5,814.3 860.8,812.7 862.1,811.2 863.4,809.7 864.6,808.1 865.9,806.6 867.1,805.0 868.3,803.4 869.5,801.8 870.7,800.2 871.9,798.6 873.1,797.0 874.3,795.4 875.5,793.7 876.6,792.1 877.8,790.5 878.9,788.8 880.0,787.2 881.2,785.5 882.3,783.9 883.4,782.2 884.5,780.6 885.7,778.9 886.8,777.2 887.9,775.6 888.9,773.9 890.0,772.2 891.1,770.5 892.2,768.8 893.3,767.1 894.3,765.5 895.4,763.8 896.5,762.1 897.5,760.4 898.6,758.7 899.6,757.0 900.7,755.3 901.7,753.6 902.8,751.9 903.8,750.2 904.9,748.4 905.9,746.7 907.0,745.0 908.0,743.3 909.0,741.6 910.1,739.9 911.1,738.2 912.2,736.5 913.3,734.8 914.3,733.1 915.4,731.4 916.4,729.7 917.5,728.0 918.6,726.3 919.6,724.7 920.7,723.0 921.8,721.3 922.9,719.6 924.0,718.0 925.1,716.3 926.2,714.6 927.3,713.0 928.5,711.3 929.6,709.7 930.7,708.0 931.9,706.4 933.0,704.7 934.2,703.1 935.4,701.5 936.6,699.9 937.8,698.3 939.0,696.7 940.2,695.1 941.4,693.5 942.7,691.9 943.9,690.4 945.2,688.8 946.4,687.3 947.7,685.8 949.0,684.2 950.3,682.7 951.6,681.2 953.0,679.7 954.3,678.2 955.7,676.8 957.1,675.3 958.4,673.9 959.8,672.5 961.3,671.0 962.7,669.6 964.1,668.2 965.6,666.9 967.0,665.5 968.5,664.1 970.0,662.8 971.5,661.5 973.0,660.2 974.6,658.9 976.1,657.6 977.7,656.4 979.2,655.1 980.8,653.9 982.4,652.7 984.0,651.5 985.6,650.4 987.3,649.2 988.9,648.1 990.6,647.0 992.3,645.9 994.0,644.9 995.7,643.8 997.4,642.8 999.2,641.8 1000.9,640.8 1002.7,639.9 1004.4,639.0 1006.2,638.1 1008.0,637.2 1009.8,636.3 1011.7,635.5 1013.5,634.7" fill="none" stroke="#c0c0c0" stroke-width="4.5" stroke-linejoin="round" stroke-dasharray="19 26.25" stroke-dashoffset="669.16" stroke-linecap="round"/>
<path d="M1013.5,634.7 L1015.3,633.9 1017.2,633.2 1019.1,632.4 1020.9,631.7 1022.8,631.0 1024.7,630.4 1026.6,629.7 1028.5,629.1 1030.4,628.5 1032.3,627.9 1034.2,627.3 1036.1,626.7 1038.0,626.2 1040.0,625.7 1041.9,625.2 1043.9,624.7 1045.8,624.2 1047.7,623.7 1049.7,623.3 1051.6,622.9 1053.6,622.4 1055.6,622.0 1057.5,621.6 1059.5,621.3 1061.5,620.9 1063.4,620.5 1065.4,620.2 1067.4,619.8 1069.3,619.5 1071.3,619.2 1073.3,618.9 1075.3,618.6 1077.2,618.3 1079.2,618.0 1081.2,617.7 1083.2,617.4 1085.2,617.2 1087.1,616.9 1089.1,616.6 1091.1,616.4 1093.1,616.1 1095.1,615.9 1097.1,615.6 1099.1,615.4 1101.0,615.2 1103.0,614.9 1105.0,614.7 1107.0,614.5 1109.0,614.2 1111.0,614.0 1113.0,613.8 1114.9,613.5 1116.9,613.3 1118.9,613.1 1120.9,612.8 1122.9,612.6 1124.9,612.3 1126.9,612.1 1128.8,611.8 1130.8,611.6 1132.8,611.3 1134.8,611.1 1136.8,610.8 1138.8,610.5 1140.7,610.3 1142.7,610.0 1144.7,609.7 1146.7,609.4 1148.7,609.1 1150.7,608.8 1152.6,608.6 1154.6,608.3 1156.6,608.0 1158.6,607.7 1160.5,607.4 1162.5,607.1 1164.5,606.8 1166.5,606.4 1168.4,606.1 1170.4,605.8 1172.4,605.5 1174.4,605.2 1176.3,604.9 1178.3,604.5 1180.3,604.2 1182.3,603.9 1184.2,603.6 1186.2,603.2 1188.2,602.9 1190.2,602.6 1192.1,602.2 1194.1,601.9 1196.1,601.5 1198.0,601.2 1200.0,600.9 1202.0,600.5 1204.0,600.2 1205.9,599.8 1207.9,599.5 1209.9,599.1 1211.8,598.8 1213.8,598.4 1215.8,598.1 1217.8,597.7 1219.7,597.4 1221.7,597.0 1223.7,596.7 1225.6,596.3 1227.6,596.0 1229.6,595.6 1231.5,595.3 1233.5,594.9 1235.5,594.6 1237.4,594.2 1239.4,593.9 1241.4,593.5 1243.3,593.1 1245.3,592.8 1247.3,592.4 1249.3,592.1 1251.2,591.7 1253.2,591.4 1255.2,591.0 1257.1,590.7 1259.1,590.3 1261.1,590.0 1263.0,589.6 1265.0,589.3 1267.0,588.9 1269.0,588.6 1270.9,588.2 1272.9,587.9 1274.9,587.5 1276.8,587.2 1278.8,586.9 1280.8,586.5 1282.7,586.2 1284.7,585.9 1286.7,585.5 1288.7,585.2 1290.6,584.9 1292.6,584.5 1294.6,584.2 1296.6,583.9 1298.5,583.6 1300.5,583.2 1302.5,582.9 1304.5,582.6 1306.4,582.3 1308.4,582.0 1310.4,581.7 1312.4,581.4 1314.3,581.0 1316.3,580.7 1318.3,580.4 1320.3,580.1 1322.3,579.9 1324.2,579.6 1326.2,579.3" fill="none" stroke="#c0c0c0" stroke-width="4.5" stroke-linejoin="round" stroke-dasharray="19 26.25" stroke-dashoffset="934.72" stroke-linecap="round"/>
<path d="M194.7,993.5 L196.7,993.2 198.7,993.0 200.7,992.7 202.7,992.4 204.7,992.1 206.6,991.9 208.6,991.6 210.6,991.3 212.6,991.0 214.6,990.8 216.6,990.5 218.5,990.2 220.5,989.9 222.5,989.6 224.5,989.3 226.5,989.1 228.5,988.8 230.4,988.5 232.4,988.2 234.4,987.9 236.4,987.6 238.4,987.3 240.3,987.0 242.3,986.7 244.3,986.4 246.3,986.2 248.3,985.9 250.2,985.6 252.2,985.3 254.2,985.0 256.2,984.7 258.2,984.4 260.1,984.1 262.1,983.8 264.1,983.5 266.1,983.1 268.1,982.8 270.0,982.5 272.0,982.2 274.0,981.9 276.0,981.6 278.0,981.3 279.9,981.0 281.9,980.7 283.9,980.4 285.9,980.0 287.8,979.7 289.8,979.4 291.8,979.1 293.8,978.8 295.7,978.5 297.7,978.1 299.7,977.8 301.7,977.5 303.7,977.2 305.6,976.8 307.6,976.5 309.6,976.2 311.6,975.8 313.5,975.5 315.5,975.2 317.5,974.8 319.5,974.5 321.4,974.2 323.4,973.8 325.4,973.5 327.3,973.2 329.3,972.8 331.3,972.5 333.3,972.1 335.2,971.8 337.2,971.5 339.2,971.1 341.2,970.8 343.1,970.4 345.1,970.1 347.1,969.7 349.0,969.4 351.0,969.0 353.0,968.6 355.0,968.3 356.9,967.9 358.9,967.6 360.9,967.2 362.8,966.9 364.8,966.5 366.8,966.1 368.7,965.8 370.7,965.4 372.7,965.0 374.6,964.7 376.6,964.3 378.6,963.9 380.6,963.5 382.5,963.2 384.5,962.8 386.5,962.4 388.4,962.0 390.4,961.7 392.3,961.3 394.3,960.9 396.3,960.5 398.2,960.1 400.2,959.7 402.2,959.4 404.1,959.0 406.1,958.6 408.1,958.2 410.0,957.8 412.0,957.4 414.0,957.0 415.9,956.6 417.9,956.2 419.8,955.8 421.8,955.4 423.8,955.0 425.7,954.6 427.7,954.2 429.7,953.8 431.6,953.4 433.6,953.0 435.5,952.6 437.5,952.1 439.5,951.7 441.4,951.3 443.4,950.9 445.3,950.5 447.3,950.1 449.2,949.6 451.2,949.2 453.2,948.8 455.1,948.4 457.1,947.9 459.0,947.5 461.0,947.1 462.9,946.7 464.9,946.2 466.8,945.8 468.8,945.4 470.8,944.9 472.7,944.5 474.7,944.1 476.6,943.6 478.6,943.2 480.5,942.8 482.5,942.3 484.4,941.9 486.4,941.4 488.3,941.0 490.3,940.6 492.3,940.1 494.2,939.7 496.2,939.2 498.1,938.8 500.1,938.4 502.0,937.9 504.0,937.5 505.9,937.0 507.9,936.6 509.8,936.1 511.8,935.7 513.7,935.3 515.7,934.8 517.6,934.4 519.6,933.9 521.5,933.5 523.5,933.0 525.5,932.6 527.4,932.2 529.4,931.7 531.3,931.3 533.3,930.8 535.2,930.4 537.2,930.0 539.1,929.5 541.1,929.1 543.0,928.6 545.0,928.2 546.9,927.8 548.9,927.3 550.9,926.9 552.8,926.5 554.8,926.0 556.7,925.6 558.7,925.2 560.6,924.7 562.6,924.3 564.5,923.9 566.5,923.5 568.5,923.0 570.4,922.6 572.4,922.2 574.3,921.8 576.3,921.3 578.2,920.9 580.2,920.5 582.2,920.1 584.1,919.7 586.1,919.3 588.0,918.8 590.0,918.4 592.0,918.0 593.9,917.6 595.9,917.2 597.8,916.8 599.8,916.4 601.8,916.0 603.7,915.6 605.7,915.2 607.7,914.8 609.6,914.4 611.6,914.0 613.5,913.7 615.5,913.3 617.5,912.9 619.4,912.5 621.4,912.1 623.4,911.8 625.3,911.4 627.3,911.0 629.3,910.6 631.3,910.3 633.2,909.9 635.2,909.6 637.2,909.2 639.1,908.8 641.1,908.5 643.1,908.1 645.0,907.8 647.0,907.4 649.0,907.1 651.0,906.8 652.9,906.4 654.9,906.1 656.9,905.8 658.9,905.4 660.8,905.1 662.8,904.8 664.8,904.5 666.8,904.2 668.8,903.9 670.7,903.6 672.7,903.3 674.7,903.0 676.7,902.7 678.7,902.4 680.6,902.1 682.6,901.8 684.6,901.5 686.6,901.2 688.6,901.0 690.5,900.7 692.5,900.4 694.5,900.2 696.5,899.9 698.5,899.6 700.5,899.4 702.5,899.1 704.5,898.9 706.4,898.7 708.4,898.4 710.4,898.2 712.4,898.0 714.4,897.7 716.4,897.5 718.4,897.3 720.4,897.1 722.4,896.9 724.3,896.6 726.3,896.4 728.3,896.2 730.3,896.0 732.3,895.8 734.3,895.6 736.3,895.4 738.3,895.2 740.3,895.0 742.3,894.8 744.3,894.6 746.3,894.4 748.2,894.2 750.2,894.0 752.2,893.8 754.2,893.5 756.2,893.3 758.2,893.1 760.2,892.9 762.2,892.7 764.2,892.5 766.2,892.3 768.2,892.1 770.2,891.9 772.1,891.6 774.1,891.4 776.1,891.2 778.1,891.0 780.1,890.7 782.1,890.5 784.1,890.2 786.1,890.0 788.1,889.8 790.0,889.5 792.0,889.3 794.0,889.0 796.0,888.7 798.0,888.5 800.0,888.2 801.9,887.9 803.9,887.6 805.9,887.3 807.9,887.0 809.9,886.7 811.9,886.4 813.8,886.1 815.8,885.8 817.8,885.5 819.8,885.1 821.7,884.8 823.7,884.4 825.7,884.1 827.6,883.7 829.6,883.3 831.6,883.0 833.5,882.6 835.5,882.2 837.5,881.8 839.4,881.4 841.4,880.9 843.3,880.5 845.3,880.1 847.2,879.6 849.2,879.2 851.1,878.7 853.1,878.3 855.0,877.8 857.0,877.3 858.9,876.8 860.9,876.3 862.8,875.8 864.7,875.3 866.7,874.8 868.6,874.3 870.6,873.8 872.5,873.3 874.4,872.8 876.4,872.3 878.3,871.8 880.2,871.3 882.2,870.7 884.1,870.2 886.0,869.7 888.0,869.2 889.9,868.7 891.8,868.1 893.8,867.6 895.7,867.1 897.6,866.6 899.6,866.1 901.5,865.6 903.5,865.1 905.4,864.6 907.3,864.1 909.3,863.6 911.2,863.1 913.2,862.6 915.1,862.1 917.0,861.6 919.0,861.2 920.9,860.7 922.9,860.2 924.8,859.8 926.8,859.3 928.7,858.9 930.7,858.5 932.7,858.0 934.6,857.6 936.6,857.2 938.5,856.8 940.5,856.3 942.4,855.9 944.4,855.5 946.4,855.1 948.3,854.7 950.3,854.4 952.3,854.0 954.2,853.6 956.2,853.2 958.2,852.9 960.1,852.5 962.1,852.1 964.1,851.8 966.0,851.4 968.0,851.1 970.0,850.8 972.0,850.4 973.9,850.1 975.9,849.8 977.9,849.4 979.9,849.1 981.9,848.8 983.8,848.5 985.8,848.2 987.8,847.9 989.8,847.6 991.7,847.3 993.7,847.0 995.7,846.7 997.7,846.4 999.7,846.2 1001.7,845.9 1003.6,845.6 1005.6,845.4 1007.6,845.1 1009.6,844.8 1011.6,844.6 1013.6,844.3" fill="none" stroke="#000000" stroke-width="4.5" stroke-linejoin="round" stroke-dasharray="24 15 3 15" stroke-dashoffset="-3.00" stroke-linecap="round"/>
<path d="M1013.6,844.3 L1015.6,844.1 1017.5,843.8 1019.5,843.6 1021.5,843.3 1023.5,843.1 1025.5,842.9 1027.5,842.6 1029.5,842.4 1031.5,842.2 1033.5,841.9 1035.4,841.7 1037.4,841.5 1039.4,841.3 1041.4,841.1 1043.4,840.8 1045.4,840.6 1047.4,840.4 1049.4,840.2 1051.4,840.0 1053.4,839.8 1055.4,839.6 1057.4,839.4 1059.3,839.2 1061.3,839.0 1063.3,838.8 1065.3,838.7 1067.3,838.5 1069.3,838.3 1071.3,838.1 1073.3,837.9 1075.3,837.7 1077.3,837.6 1079.3,837.4 1081.3,837.2 1083.3,837.0 1085.3,836.9 1087.3,836.7 1089.3,836.5 1091.3,836.4 1093.2,836.2 1095.2,836.0 1097.2,835.9 1099.2,835.7 1101.2,835.5 1103.2,835.4 1105.2,835.2 1107.2,835.0 1109.2,834.9 1111.2,834.7 1113.2,834.6 1115.2,834.4 1117.2,834.2 1119.2,834.1 1121.2,833.9 1123.2,833.8 1125.2,833.6 1127.2,833.5 1129.2,833.3 1131.2,833.1 1133.2,833.0 1135.2,832.8 1137.2,832.7 1139.2,832.5 1141.2,832.4 1143.2,832.2 1145.1,832.0 1147.1,831.9 1149.1,831.7 1151.1,831.6 1153.1,831.4 1155.1,831.3 1157.1,831.1 1159.1,830.9 1161.1,830.8 1163.1,830.6 1165.1,830.4 1167.1,830.3 1169.1,830.1 1171.1,830.0 1173.1,829.8 1175.1,829.6 1177.1,829.5 1179.1,829.3 1181.1,829.1 1183.1,828.9 1185.1,828.8 1187.1,828.6 1189.1,828.4 1191.0,828.2 1193.0,828.1 1195.0,827.9 1197.0,827.7 1199.0,827.5 1201.0,827.3 1203.0,827.1 1205.0,827.0 1207.0,826.8 1209.0,826.6 1211.0,826.4 1213.0,826.2 1215.0,826.0 1217.0,825.8 1219.0,825.6 1220.9,825.4 1222.9,825.2 1224.9,824.9 1226.9,824.7 1228.9,824.5 1230.9,824.3 1232.9,824.1 1234.9,823.9 1236.9,823.6 1238.9,823.4 1240.9,823.2 1242.8,822.9 1244.8,822.7 1246.8,822.5 1248.8,822.2 1250.8,822.0 1252.8,821.7 1254.8,821.5 1256.7,821.2 1258.7,821.0 1260.7,820.7 1262.7,820.4 1264.7,820.2 1266.7,819.9 1268.7,819.6 1270.6,819.3 1272.6,819.0 1274.6,818.8 1276.6,818.5 1278.6,818.2 1280.5,817.9 1282.5,817.6 1284.5,817.3 1286.5,817.0 1288.5,816.6 1290.4,816.3 1292.4,816.0 1294.4,815.7 1296.4,815.3 1298.3,815.0 1300.3,814.7 1302.3,814.3 1304.3,814.0 1306.2,813.6 1308.2,813.3 1310.2,812.9 1312.1,812.5 1314.1,812.2 1316.1,811.8 1318.0,811.4 1320.0,811.0 1322.0,810.6 1323.9,810.2 1325.9,809.8" fill="none" stroke="#000000" stroke-width="4.5" stroke-linejoin="round" stroke-dasharray="24 15 3 15" stroke-dashoffset="827.52" stroke-linecap="round"/>
<path d="M194.8,1009.5 L196.8,1009.2 198.7,1008.8 200.7,1008.4 202.7,1008.1 204.6,1007.7 206.6,1007.3 208.6,1007.0 210.5,1006.6 212.5,1006.3 214.5,1005.9 216.4,1005.5 218.4,1005.2 220.4,1004.8 222.4,1004.5 224.3,1004.1 226.3,1003.8 228.3,1003.4 230.2,1003.1 232.2,1002.7 234.2,1002.4 236.1,1002.1 238.1,1001.7 240.1,1001.4 242.1,1001.0 244.0,1000.7 246.0,1000.4 248.0,1000.0 250.0,999.7 251.9,999.4 253.9,999.0 255.9,998.7 257.8,998.4 259.8,998.1 261.8,997.7 263.8,997.4 265.7,997.1 267.7,996.8 269.7,996.4 271.7,996.1 273.6,995.8 275.6,995.5 277.6,995.2 279.6,994.9 281.5,994.6 283.5,994.3 285.5,993.9 287.5,993.6 289.5,993.3 291.4,993.0 293.4,992.7 295.4,992.4 297.4,992.1 299.3,991.8 301.3,991.5 303.3,991.2 305.3,990.9 307.3,990.6 309.2,990.4 311.2,990.1 313.2,989.8 315.2,989.5 317.2,989.2 319.1,988.9 321.1,988.6 323.1,988.4 325.1,988.1 327.1,987.8 329.0,987.5 331.0,987.2 333.0,987.0 335.0,986.7 337.0,986.4 338.9,986.1 340.9,985.9 342.9,985.6 344.9,985.3 346.9,985.1 348.9,984.8 350.8,984.5 352.8,984.3 354.8,984.0 356.8,983.7 358.8,983.5 360.8,983.2 362.7,983.0 364.7,982.7 366.7,982.4 368.7,982.1 370.7,981.9 372.6,981.6 374.6,981.3 376.6,981.0 378.6,980.7 380.6,980.4 382.5,980.1 384.5,979.8 386.5,979.5 388.5,979.1 390.4,978.8 392.4,978.4 394.4,978.1 396.3,977.7 398.3,977.3 400.3,976.9 402.2,976.5 404.2,976.1 406.1,975.7 408.1,975.3 410.0,974.8 412.0,974.4 413.9,973.9 415.9,973.5 417.8,973.0 419.8,972.5 421.7,972.0 423.6,971.5 425.6,971.0 427.5,970.5 429.4,969.9 431.4,969.4 433.3,968.9 435.2,968.3 437.1,967.8 439.1,967.2 441.0,966.7 442.9,966.1 444.8,965.5 446.7,965.0 448.7,964.4 450.6,963.8 452.5,963.2 454.4,962.6 456.3,962.0 458.2,961.5 460.1,960.9 462.0,960.3 463.9,959.7 465.9,959.1 467.8,958.5 469.7,957.9 471.6,957.3 473.5,956.7 475.4,956.1 477.3,955.5 479.2,954.9 481.1,954.3 483.0,953.7 485.0,953.1 486.9,952.5 488.8,951.9 490.7,951.3 492.6,950.8 494.5,950.2 496.4,949.6 498.4,949.0 500.3,948.5 502.2,947.9 504.1,947.4 506.0,946.8 508.0,946.3 509.9,945.7 511.8,945.2 513.7,944.6 515.7,944.1 517.6,943.6 519.5,943.0 521.5,942.5 523.4,942.0 525.3,941.5 527.3,941.0 529.2,940.5 531.1,940.0 533.1,939.5 535.0,939.0 536.9,938.5 538.9,938.0 540.8,937.5 542.8,937.0 544.7,936.6 546.7,936.1 548.6,935.6 550.6,935.2 552.5,934.7 554.4,934.3 556.4,933.8 558.4,933.4 560.3,933.0 562.3,932.5 564.2,932.1 566.2,931.7 568.1,931.3 570.1,930.8 572.0,930.4 574.0,930.0 576.0,929.6 577.9,929.2 579.9,928.8 581.8,928.4 583.8,928.1 585.8,927.7 587.7,927.3 589.7,926.9 591.7,926.6 593.6,926.2 595.6,925.9 597.6,925.5 599.5,925.2 601.5,924.8 603.5,924.5 605.5,924.2 607.4,923.8 609.4,923.5 611.4,923.2 613.4,922.9 615.3,922.6 617.3,922.3 619.3,922.0 621.3,921.7 623.3,921.4 625.2,921.1 627.2,920.8 629.2,920.6 631.2,920.3 633.2,920.0 635.1,919.8 637.1,919.5 639.1,919.3 641.1,919.0 643.1,918.8 645.1,918.6 647.1,918.3 649.1,918.1 651.0,917.9 653.0,917.7 655.0,917.5 657.0,917.3 659.0,917.1 661.0,916.9 663.0,916.7 665.0,916.5 667.0,916.4 669.0,916.2 671.0,916.0 672.9,915.8 674.9,915.7 676.9,915.5 678.9,915.4 680.9,915.2 682.9,915.1 684.9,914.9 686.9,914.8 688.9,914.7 690.9,914.5 692.9,914.4 694.9,914.3 696.9,914.1 698.9,914.0 700.9,913.9 702.9,913.7 704.9,913.6 706.9,913.5 708.9,913.4 710.9,913.3 712.9,913.1 714.9,913.0 716.9,912.9 718.9,912.8 720.9,912.7 722.9,912.6 724.8,912.4 726.8,912.3 728.8,912.2 730.8,912.1 732.8,912.0 734.8,911.8 736.8,911.7 738.8,911.6 740.8,911.5 742.8,911.3 744.8,911.2 746.8,911.1 748.8,910.9 750.8,910.8 752.8,910.7 754.8,910.5 756.8,910.4 758.8,910.3 760.8,910.1 762.8,910.0 764.8,909.8 766.8,909.6 768.8,909.5 770.8,909.3 772.7,909.1 774.7,908.9 776.7,908.7 778.7,908.5 780.7,908.3 782.7,908.1 784.7,907.8 786.7,907.6 788.6,907.3 790.6,907.0 792.6,906.7 794.6,906.4 796.5,906.0 798.5,905.6 800.5,905.2 802.4,904.8 804.4,904.3 806.3,903.8 808.2,903.3 810.2,902.8 812.1,902.2 814.0,901.6 815.9,901.0 817.8,900.3 819.6,899.6 821.5,898.9 823.4,898.1 825.2,897.3 827.0,896.5 828.8,895.7 830.6,894.8 832.4,893.9 834.2,893.0 836.0,892.1 837.8,891.1 839.5,890.2 841.2,889.2 843.0,888.1 844.7,887.1 846.4,886.1 848.1,885.0 849.7,883.9 851.4,882.8 853.0,881.6 854.7,880.5 856.3,879.3 857.9,878.2 859.5,877.0 861.1,875.8 862.7,874.6 864.3,873.3 865.9,872.1 867.4,870.8 869.0,869.6 870.5,868.3 872.1,867.0 873.6,865.7 875.1,864.4 876.6,863.1 878.1,861.8 879.6,860.4 881.1,859.1 882.5,857.7 884.0,856.4 885.5,855.0 886.9,853.6 888.4,852.3 889.8,850.9 891.3,849.5 892.7,848.1 894.2,846.7 895.6,845.3 897.0,843.9 898.5,842.5 899.9,841.1 901.3,839.7 902.7,838.3 904.2,836.9 905.6,835.5 907.0,834.1 908.5,832.7 909.9,831.3 911.3,829.9 912.8,828.5 914.2,827.1 915.6,825.8 917.1,824.4 918.5,823.0 920.0,821.6 921.4,820.3 922.9,818.9 924.4,817.5 925.9,816.2 927.3,814.8 928.8,813.5 930.3,812.2 931.8,810.9 933.4,809.6 934.9,808.3 936.4,807.0 938.0,805.7 939.5,804.5 941.1,803.2 942.7,802.0 944.3,800.8 945.9,799.6 947.5,798.4 949.1,797.2 950.7,796.1 952.4,795.0 954.1,793.9 955.7,792.8 957.4,791.7 959.1,790.6 960.8,789.6 962.6,788.6 964.3,787.6 966.1,786.6 967.8,785.7 969.6,784.7 971.4,783.8 973.1,782.9 974.9,782.0 976.7,781.2 978.6,780.3 980.4,779.5 982.2,778.7 984.0,777.9 985.9,777.1 987.7,776.4 989.6,775.6 991.5,774.9 993.3,774.2 995.2,773.5 997.1,772.8 999.0,772.1 1000.9,771.5 1002.8,770.8 1004.7,770.2 1006.6,769.6 1008.5,769.0 1010.4,768.4 1012.3,767.8 1014.2,767.3 1016.1,766.7 1018.1,766.2 1020.0,765.7 1021.9,765.1 1023.9,764.6 1025.8,764.1 1027.7,763.7 1029.7,763.2 1031.6,762.7 1033.6,762.3 1035.5,761.8 1037.5,761.4 1039.4,761.0 1041.4,760.5 1043.4,760.1 1045.3,759.7 1047.3,759.3 1049.2,758.9 1051.2,758.6 1053.2,758.2 1055.1,757.8 1057.1,757.5 1059.1,757.1 1061.0,756.8 1063.0,756.4 1065.0,756.1 1067.0,755.7 1068.9,755.4 1070.9,755.1 1072.9,754.8 1074.8,754.4 1076.8,754.1 1078.8,753.8 1080.8,753.5 1082.8,753.2 1084.7,752.9 1086.7,752.6 1088.7,752.3 1090.7,752.0 1092.6,751.7 1094.6,751.4 1096.6,751.2 1098.6,750.9 1100.6,750.6 1102.5,750.3 1104.5,750.0 1106.5,749.7 1108.5,749.5 1110.5,749.2 1112.5,748.9 1114.4,748.6 1116.4,748.4 1118.4,748.1 1120.4,747.8 1122.4,747.6 1124.4,747.3 1126.3,747.1 1128.3,746.8 1130.3,746.5 1132.3,746.3 1134.3,746.0 1136.3,745.8 1138.2,745.5 1140.2,745.3 1142.2,745.0 1144.2,744.8 1146.2,744.5 1148.2,744.3 1150.2,744.1 1152.1,743.8 1154.1,743.6 1156.1,743.3 1158.1,743.1 1160.1,742.9 1162.1,742.6 1164.1,742.4 1166.0,742.2 1168.0,741.9 1170.0,741.7 1172.0,741.5 1174.0,741.2 1176.0,741.0 1178.0,740.8 1180.0,740.6 1181.9,740.3 1183.9,740.1 1185.9,739.9 1187.9,739.7 1189.9,739.5 1191.9,739.2 1193.9,739.0 1195.9,738.8 1197.9,738.6 1199.8,738.4 1201.8,738.1 1203.8,737.9 1205.8,737.7 1207.8,737.5 1209.8,737.3 1211.8,737.1 1213.8,736.9 1215.8,736.6 1217.7,736.4 1219.7,736.2 1221.7,736.0 1223.7,735.8 1225.7,735.6 1227.7,735.4 1229.7,735.2 1231.7,735.0 1233.7,734.8 1235.6,734.5 1237.6,734.3 1239.6,734.1 1241.6,733.9 1243.6,733.7 1245.6,733.5 1247.6,733.3 1249.6,733.1 1251.6,732.9 1253.6,732.7 1255.5,732.5 1257.5,732.2 1259.5,732.0 1261.5,731.8 1263.5,731.6 1265.5,731.4 1267.5,731.2 1269.5,731.0 1271.5,730.8 1273.4,730.6 1275.4,730.4 1277.4,730.1 1279.4,729.9 1281.4,729.7 1283.4,729.5 1285.4,729.3 1287.4,729.1 1289.4,728.9 1291.4,728.6 1293.3,728.4 1295.3,728.2 1297.3,728.0 1299.3,727.8 1301.3,727.6 1303.3,727.3 1305.3,727.1 1307.3,726.9 1309.2,726.7 1311.2,726.5 1313.2,726.2 1315.2,726.0 1317.2,725.8 1319.2,725.6 1321.2,725.3 1323.2,725.1 1325.1,724.9 1327.1,724.6" fill="none" stroke="#808080" stroke-width="4.5" stroke-linejoin="round" stroke-linecap="round"/>
<path d="M194.3,165.0 V1080.3 H1439.0" fill="none" stroke="#000" stroke-width="3.4" stroke-linecap="square"/>
<line x1="174.0" y1="1080.30" x2="194.3" y2="1080.30" stroke="#000" stroke-width="3.4"/>
<line x1="182.0" y1="1029.47" x2="194.3" y2="1029.47" stroke="#000" stroke-width="3.4"/>
<line x1="174.0" y1="978.65" x2="194.3" y2="978.65" stroke="#000" stroke-width="3.4"/>
<line x1="182.0" y1="927.82" x2="194.3" y2="927.82" stroke="#000" stroke-width="3.4"/>
<line x1="174.0" y1="877.00" x2="194.3" y2="877.00" stroke="#000" stroke-width="3.4"/>
<line x1="182.0" y1="826.17" x2="194.3" y2="826.17" stroke="#000" stroke-width="3.4"/>
<line x1="174.0" y1="775.35" x2="194.3" y2="775.35" stroke="#000" stroke-width="3.4"/>
<line x1="182.0" y1="724.52" x2="194.3" y2="724.52" stroke="#000" stroke-width="3.4"/>
<line x1="174.0" y1="673.70" x2="194.3" y2="673.70" stroke="#000" stroke-width="3.4"/>
<line x1="182.0" y1="622.87" x2="194.3" y2="622.87" stroke="#000" stroke-width="3.4"/>
<line x1="174.0" y1="572.05" x2="194.3" y2="572.05" stroke="#000" stroke-width="3.4"/>
<line x1="182.0" y1="521.22" x2="194.3" y2="521.22" stroke="#000" stroke-width="3.4"/>
<line x1="174.0" y1="470.40" x2="194.3" y2="470.40" stroke="#000" stroke-width="3.4"/>
<line x1="182.0" y1="419.57" x2="194.3" y2="419.57" stroke="#000" stroke-width="3.4"/>
<line x1="174.0" y1="368.75" x2="194.3" y2="368.75" stroke="#000" stroke-width="3.4"/>
<line x1="182.0" y1="317.92" x2="194.3" y2="317.92" stroke="#000" stroke-width="3.4"/>
<line x1="174.0" y1="267.10" x2="194.3" y2="267.10" stroke="#000" stroke-width="3.4"/>
<line x1="182.0" y1="216.27" x2="194.3" y2="216.27" stroke="#000" stroke-width="3.4"/>
<line x1="174.0" y1="165.45" x2="194.3" y2="165.45" stroke="#000" stroke-width="3.4"/>
<line x1="194.30" y1="1080.3" x2="194.30" y2="1099.5" stroke="#000" stroke-width="3.4"/>
<line x1="307.45" y1="1080.3" x2="307.45" y2="1090.0" stroke="#000" stroke-width="3.4"/>
<line x1="420.60" y1="1080.3" x2="420.60" y2="1099.5" stroke="#000" stroke-width="3.4"/>
<line x1="533.75" y1="1080.3" x2="533.75" y2="1090.0" stroke="#000" stroke-width="3.4"/>
<line x1="646.90" y1="1080.3" x2="646.90" y2="1099.5" stroke="#000" stroke-width="3.4"/>
<line x1="760.05" y1="1080.3" x2="760.05" y2="1090.0" stroke="#000" stroke-width="3.4"/>
<line x1="873.20" y1="1080.3" x2="873.20" y2="1099.5" stroke="#000" stroke-width="3.4"/>
<line x1="986.35" y1="1080.3" x2="986.35" y2="1090.0" stroke="#000" stroke-width="3.4"/>
<line x1="1099.50" y1="1080.3" x2="1099.50" y2="1099.5" stroke="#000" stroke-width="3.4"/>
<line x1="1212.65" y1="1080.3" x2="1212.65" y2="1090.0" stroke="#000" stroke-width="3.4"/>
<line x1="1325.80" y1="1080.3" x2="1325.80" y2="1099.5" stroke="#000" stroke-width="3.4"/>
<line x1="1438.95" y1="1080.3" x2="1438.95" y2="1090.0" stroke="#000" stroke-width="3.4"/>
<text transform="translate(162.7,1091.7) scale(0.965,1)" text-anchor="end" font-family="Liberation Sans" font-size="42.0">0.00</text>
<text transform="translate(162.7,990.0) scale(0.965,1)" text-anchor="end" font-family="Liberation Sans" font-size="42.0">0.05</text>
<text transform="translate(162.7,888.4) scale(0.965,1)" text-anchor="end" font-family="Liberation Sans" font-size="42.0">0.10</text>
<text transform="translate(162.7,786.7) scale(0.965,1)" text-anchor="end" font-family="Liberation Sans" font-size="42.0">0.15</text>
<text transform="translate(162.7,685.1) scale(0.965,1)" text-anchor="end" font-family="Liberation Sans" font-size="42.0">0.20</text>
<text transform="translate(162.7,583.4) scale(0.965,1)" text-anchor="end" font-family="Liberation Sans" font-size="42.0">0.25</text>
<text transform="translate(162.7,481.8) scale(0.965,1)" text-anchor="end" font-family="Liberation Sans" font-size="42.0">0.30</text>
<text transform="translate(162.7,380.1) scale(0.965,1)" text-anchor="end" font-family="Liberation Sans" font-size="42.0">0.35</text>
<text transform="translate(162.7,278.5) scale(0.965,1)" text-anchor="end" font-family="Liberation Sans" font-size="42.0">0.40</text>
<text transform="translate(162.7,176.8) scale(0.965,1)" text-anchor="end" font-family="Liberation Sans" font-size="42.0">0.45</text>
<text transform="translate(194.3,1142.3) scale(0.965,1)" text-anchor="middle" font-family="Liberation Sans" font-size="42.0">400</text>
<text transform="translate(420.6,1142.3) scale(0.965,1)" text-anchor="middle" font-family="Liberation Sans" font-size="42.0">500</text>
<text transform="translate(646.9,1142.3) scale(0.965,1)" text-anchor="middle" font-family="Liberation Sans" font-size="42.0">600</text>
<text transform="translate(873.2,1142.3) scale(0.965,1)" text-anchor="middle" font-family="Liberation Sans" font-size="42.0">700</text>
<text transform="translate(1099.5,1142.3) scale(0.965,1)" text-anchor="middle" font-family="Liberation Sans" font-size="42.0">800</text>
<text transform="translate(1325.8,1142.3) scale(0.965,1)" text-anchor="middle" font-family="Liberation Sans" font-size="42.0">900</text>
<text transform="translate(13.5,591.5) rotate(90)" text-anchor="middle" font-family="Liberation Serif" font-size="56" letter-spacing="0.4" stroke="#000" stroke-width="1.10">Reflectance</text>
<text x="528.5" y="1216.3" font-family="Liberation Serif" font-size="56" letter-spacing="0.5" stroke="#000" stroke-width="1.10">Wave length</text>
<text x="821" y="1220" font-family="Liberation Sans" font-size="50.5">(nm)</text>
<rect x="264.5" y="13.3" width="1140.8" height="146.1" fill="#fff" stroke="#6e6e6e" stroke-width="2.3"/>
<line x1="299.5" y1="50.4" x2="378.5" y2="50.4" stroke="#ff8000" stroke-width="4.6" stroke-linecap="round"/>
<text x="387.0" y="58.2" font-family="Liberation Serif" font-size="28.6" stroke="#000" stroke-width="0.6">Bare sand</text>
<line x1="520.5" y1="50.4" x2="539.5" y2="50.4" stroke="#808000" stroke-width="4.6" stroke-linecap="round"/>
<line x1="565.5" y1="50.4" x2="585.5" y2="50.4" stroke="#808000" stroke-width="4.6" stroke-linecap="round"/>
<text x="591.0" y="58.2" font-family="Liberation Serif" font-size="28.6" stroke="#000" stroke-width="0.6">Bare soil</text>
<line x1="742.5" y1="50.6" x2="820.5" y2="50.6" stroke="#008000" stroke-width="4.6" stroke-linecap="round"/>
<text x="831.5" y="58.2" font-family="Liberation Serif" font-size="28.6" stroke="#000" stroke-width="0.6">Artemisia oleifera</text>
<line x1="1041.5" y1="50.6" x2="1063.5" y2="50.6" stroke="#000" stroke-width="4.6" stroke-linecap="round"/>
<line x1="1080.5" y1="50.6" x2="1083.7" y2="50.6" stroke="#000" stroke-width="4.6" stroke-linecap="round"/>
<line x1="1099.5" y1="50.6" x2="1120.5" y2="50.6" stroke="#000" stroke-width="4.6" stroke-linecap="round"/>
<text x="1130.0" y="58.2" font-family="Liberation Serif" font-size="28.6" stroke="#000" stroke-width="0.6">Dead Artemisia oleifera</text>
<line x1="299.5" y1="94.0" x2="322.5" y2="94.0" stroke="#008080" stroke-width="4.6" stroke-linecap="round"/>
<line x1="338.0" y1="94.0" x2="341.4" y2="94.0" stroke="#008080" stroke-width="4.6" stroke-linecap="round"/>
<line x1="356.5" y1="94.0" x2="378.5" y2="94.0" stroke="#008080" stroke-width="4.6" stroke-linecap="round"/>
<text x="388.5" y="101.2" font-family="Liberation Serif" font-size="28.6" stroke="#000" stroke-width="0.6">Stipa capillata L.</text>
<line x1="602.5" y1="94.0" x2="619.5" y2="94.0" stroke="#c0c0c0" stroke-width="4.6" stroke-linecap="round"/>
<line x1="648.5" y1="94.0" x2="665.5" y2="94.0" stroke="#c0c0c0" stroke-width="4.6" stroke-linecap="round"/>
<text x="675.5" y="101.2" font-family="Liberation Serif" font-size="28.6" stroke="#000" stroke-width="0.6">Dead Stipa capillata L.</text>
<line x1="299.5" y1="134.5" x2="319.5" y2="134.5" stroke="#00ff00" stroke-width="4.6" stroke-linecap="round"/>
<line x1="344.5" y1="134.5" x2="364.5" y2="134.5" stroke="#00ff00" stroke-width="4.6" stroke-linecap="round"/>
<text x="387.0" y="143.7" font-family="Liberation Serif" font-size="28.6" stroke="#000" stroke-width="0.6">Hedysarum scoparium</text>
<line x1="742.5" y1="134.8" x2="819.5" y2="134.8" stroke="#808080" stroke-width="4.6" stroke-linecap="round"/>
<text x="831.0" y="143.7" font-family="Liberation Serif" font-size="28.6" stroke="#000" stroke-width="0.6">Dead Hedysarum scoparium</text>
</g>
</svg>
</body></html>
